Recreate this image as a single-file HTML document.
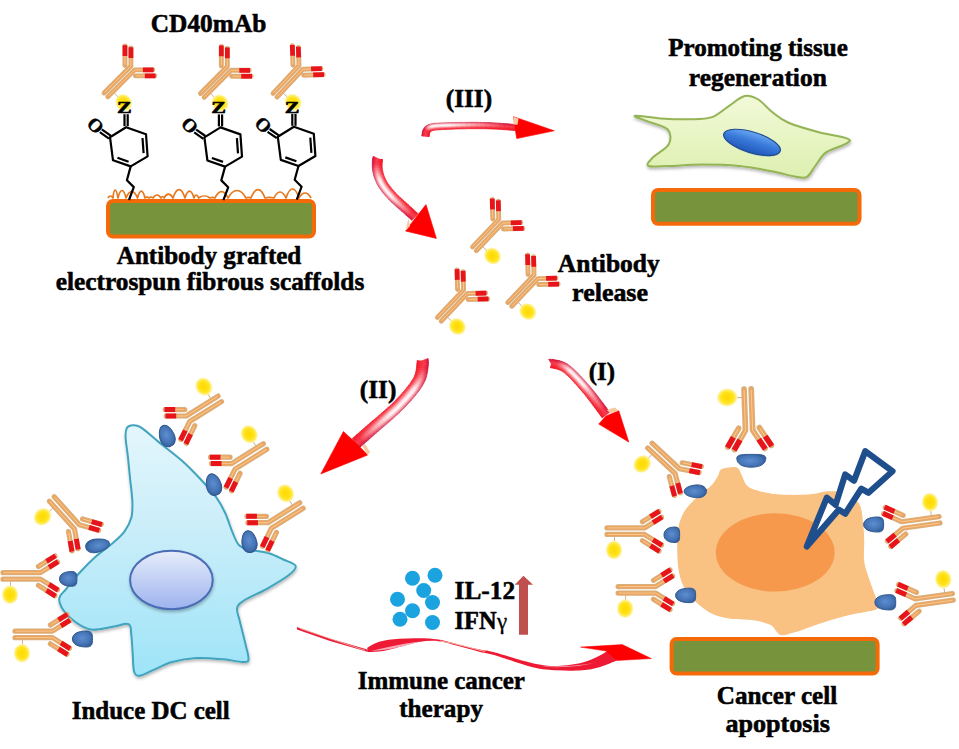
<!DOCTYPE html>
<html><head><meta charset="utf-8"><style>
html,body{margin:0;padding:0;background:#fff;width:959px;height:749px;overflow:hidden}
svg{display:block;font-family:"Liberation Serif",serif}
</style></head><body>
<svg width="959" height="749" viewBox="0 0 959 749" font-family="Liberation Serif, serif" font-weight="bold" stroke-linejoin="round">
<defs>
 <filter id="shd" x="-10%" y="-10%" width="120%" height="125%">
  <feDropShadow dx="0.5" dy="2" stdDeviation="1.8" flood-color="#000" flood-opacity="0.28"/>
 </filter>
 <radialGradient id="ball" cx="50%" cy="50%" r="50%">
  <stop offset="0" stop-color="#FFD800"/>
  <stop offset="0.55" stop-color="#FFE31A"/>
  <stop offset="0.8" stop-color="#FFEA50" stop-opacity="0.8"/>
  <stop offset="1" stop-color="#FFF4B0" stop-opacity="0"/>
 </radialGradient>
 <linearGradient id="dcfill" x1="0" y1="0" x2="0" y2="1">
  <stop offset="0" stop-color="#E4F6FC"/>
  <stop offset="0.5" stop-color="#C4ECF9"/>
  <stop offset="1" stop-color="#9EE4F8"/>
 </linearGradient>
 <linearGradient id="dcnuc" x1="0" y1="0" x2="0" y2="1">
  <stop offset="0" stop-color="#E6ECFA"/>
  <stop offset="1" stop-color="#9DB3EE"/>
 </linearGradient>
 <linearGradient id="tisfill" x1="0" y1="0" x2="0" y2="1">
  <stop offset="0" stop-color="#F2F9D8"/>
  <stop offset="1" stop-color="#DDF0B0"/>
 </linearGradient>
 <linearGradient id="tisnuc" x1="0" y1="0" x2="0" y2="1">
  <stop offset="0" stop-color="#6AA8F2"/>
  <stop offset="0.45" stop-color="#3A7ADA"/>
  <stop offset="1" stop-color="#2058B8"/>
 </linearGradient>
 <radialGradient id="rec" cx="50%" cy="45%" r="55%">
  <stop offset="0" stop-color="#5D8ED0"/>
  <stop offset="0.7" stop-color="#4574B5"/>
  <stop offset="1" stop-color="#365F9E"/>
 </radialGradient>
 <symbol id="ab" overflow="visible">
  <line x1="8" y1="4" x2="8" y2="11" stroke="#C9A070" stroke-width="0.8"/>
  <ellipse cx="8" cy="19" rx="9" ry="10" fill="url(#ball)"/>
  <g fill="none" stroke-linecap="round" stroke-linejoin="round">
   <g stroke="#D8B080" stroke-width="5.2">
    <polyline points="0.5,-2.8 40.5,-2.8 54,-16.3"/>
    <polyline points="0.5,2.8 40.5,2.8 54,16.3"/>
    <line x1="36.5" y1="-7.7" x2="51" y2="-22.2"/>
    <line x1="36.5" y1="7.7" x2="51" y2="22.2"/>
   </g>
   <g stroke="#EEA45C" stroke-width="3.2">
    <polyline points="0.5,-2.8 40.5,-2.8 54,-16.3"/>
    <polyline points="0.5,2.8 40.5,2.8 54,16.3"/>
    <line x1="36.5" y1="-7.7" x2="51" y2="-22.2"/>
    <line x1="36.5" y1="7.7" x2="51" y2="22.2"/>
   </g>
   <g stroke="#F6CC98" stroke-width="0.9">
    <polyline points="1.5,-2.8 40.5,-2.8 52,-14.3"/>
    <polyline points="1.5,2.8 40.5,2.8 52,14.3"/>
    <line x1="37.5" y1="-8.7" x2="49" y2="-20.2"/>
    <line x1="37.5" y1="8.7" x2="49" y2="20.2"/>
   </g>
   <g stroke="#E8141C" stroke-width="5.0" stroke-linecap="butt">
    <line x1="46.6" y1="-8.9" x2="54.6" y2="-16.9"/>
    <line x1="46.6" y1="8.9" x2="54.6" y2="16.9"/>
    <line x1="43.6" y1="-14.8" x2="51.6" y2="-22.8"/>
    <line x1="43.6" y1="14.8" x2="51.6" y2="22.8"/>
   </g>
  </g>
 </symbol>
 <symbol id="ab2" overflow="visible">
  <line x1="8" y1="5" x2="8" y2="10" stroke="#C9A070" stroke-width="0.8"/>
  <ellipse cx="7.5" cy="18.8" rx="8.8" ry="10" fill="url(#ball)"/>
  <g fill="none" stroke-linecap="round" stroke-linejoin="round">
   <g stroke="#D8B080" stroke-width="5.2">
    <polyline points="0.5,-3.25 38,-3.25 55,-13.85"/>
    <polyline points="0.5,3.25 38,3.25 55,13.85"/>
    <line x1="35.9" y1="-9.45" x2="52.45" y2="-19.8"/>
    <line x1="35.9" y1="9.45" x2="52.45" y2="19.8"/>
   </g>
   <g stroke="#EEA45C" stroke-width="3.2">
    <polyline points="0.5,-3.25 38,-3.25 55,-13.85"/>
    <polyline points="0.5,3.25 38,3.25 55,13.85"/>
    <line x1="35.9" y1="-9.45" x2="52.45" y2="-19.8"/>
    <line x1="35.9" y1="9.45" x2="52.45" y2="19.8"/>
   </g>
   <g stroke="#F6CC98" stroke-width="0.9">
    <polyline points="1.5,-3.25 38,-3.25 52,-11.9"/>
    <polyline points="1.5,3.25 38,3.25 52,11.9"/>
    <line x1="37" y1="-10.1" x2="49.5" y2="-17.9"/>
    <line x1="37" y1="10.1" x2="49.5" y2="17.9"/>
   </g>
   <g stroke="#E8141C" stroke-width="5.0" stroke-linecap="butt">
    <line x1="46.5" y1="-8.55" x2="55.6" y2="-14.2"/>
    <line x1="46.5" y1="8.55" x2="55.6" y2="14.2"/>
    <line x1="44" y1="-14.5" x2="53.05" y2="-20.15"/>
    <line x1="44" y1="14.5" x2="53.05" y2="20.15"/>
   </g>
  </g>
 </symbol>
</defs>

<path d="M108,198 C109.5,195.3 111.5,195.3 113.0,198 C113.8,187.4 116.2,187.4 118.0,198 C120.4,188.0 123.6,188.0 126.0,198 C129.4,189.4 134.1,189.4 137.5,198 C139.8,188.7 142.8,188.7 145.0,198 C146.2,196.7 147.8,196.7 149.0,198 C150.2,196.7 151.8,196.7 153.0,198 C155.4,194.0 158.6,194.0 161.0,198 C161.9,196.0 163.1,196.0 164.0,198 C166.7,192.7 170.3,192.7 173.0,198 C176.6,186.7 181.4,186.7 185.0,198 C187.7,188.7 191.3,188.7 194.0,198 C195.4,194.0 197.2,194.0 198.6,198 C202.0,195.3 206.6,195.3 210.0,198 C211.5,197.3 213.5,197.3 215.0,198 C218.9,189.4 224.1,189.4 228.0,198 C233.4,188.0 240.6,188.0 246.0,198 C247.5,197.3 249.5,197.3 251.0,198 C255.2,186.7 260.8,186.7 265.0,198 C267.7,197.3 271.3,197.3 274.0,198 C277.6,190.0 282.4,190.0 286.0,198 C289.9,186.0 295.1,186.0 299.0,198 C302.6,191.3 307.4,191.3 311.0,198" fill="none" stroke="#E8781C" stroke-width="1.7" stroke-linejoin="round"/>
<rect x="108" y="201" width="206" height="35.5" rx="5" fill="#77933C" stroke="#F46A08" stroke-width="4"/>
<use href="#ab" transform="translate(105.6,95.2) rotate(-45) scale(0.95)"/>
<use href="#ab" transform="translate(202,95.6) rotate(-45) scale(0.95)"/>
<use href="#ab" transform="translate(274.7,95.6) rotate(-47) scale(0.95)"/>
<g stroke="#000" stroke-width="2.2" fill="none" stroke-linejoin="round"><polygon points="126.1,127.2 146.0,134.2 147.6,156.4 130.7,166.4 113.0,160.3 110.0,137.2"/><line x1="142.5" y1="138.0" x2="143.6" y2="153.2"/><line x1="128.6" y1="161.7" x2="117.5" y2="157.8"/><line x1="124.5" y1="126.2" x2="124.5" y2="114.2"/><line x1="127.69999999999999" y1="126.2" x2="127.69999999999999" y2="114.2"/><line x1="111.0" y1="135.8" x2="101.8" y2="129.4"/><line x1="109.0" y1="138.6" x2="99.8" y2="132.2"/><polyline points="130.7,166.4 126.89999999999999,180.2 133.79999999999998,187.1 129.0,200.0"/></g>
<text x="0" y="0" font-size="19" text-anchor="middle" stroke="#000" stroke-width="0.5" transform="translate(95.5,125.3) rotate(45) translate(0,6.5)">O</text>
<text x="0" y="0" font-size="17" text-anchor="middle" stroke="#000" stroke-width="0.6" transform="translate(124.3,113.0) scale(1.3,1)">Z</text>
<g stroke="#000" stroke-width="2.2" fill="none" stroke-linejoin="round"><polygon points="220.5,127.4 240.4,134.4 242.0,156.6 225.1,166.6 207.4,160.5 204.4,137.4"/><line x1="236.9" y1="138.2" x2="238.0" y2="153.4"/><line x1="223.0" y1="161.9" x2="211.9" y2="158.0"/><line x1="218.9" y1="126.4" x2="218.9" y2="114.4"/><line x1="222.1" y1="126.4" x2="222.1" y2="114.4"/><line x1="205.4" y1="136.0" x2="196.2" y2="129.6"/><line x1="203.4" y1="138.8" x2="194.2" y2="132.4"/><polyline points="225.1,166.60000000000002 221.3,180.4 228.2,187.3 223.4,200.2"/></g>
<text x="0" y="0" font-size="19" text-anchor="middle" stroke="#000" stroke-width="0.5" transform="translate(189.9,125.5) rotate(45) translate(0,6.5)">O</text>
<text x="0" y="0" font-size="17" text-anchor="middle" stroke="#000" stroke-width="0.6" transform="translate(218.7,113.2) scale(1.3,1)">Z</text>
<g stroke="#000" stroke-width="2.2" fill="none" stroke-linejoin="round"><polygon points="293.9,126.8 313.8,133.8 315.4,156.0 298.5,166.0 280.8,159.9 277.8,136.8"/><line x1="310.3" y1="137.6" x2="311.4" y2="152.8"/><line x1="296.4" y1="161.3" x2="285.3" y2="157.4"/><line x1="292.29999999999995" y1="125.8" x2="292.29999999999995" y2="113.8"/><line x1="295.5" y1="125.8" x2="295.5" y2="113.8"/><line x1="278.79999999999995" y1="135.4" x2="269.59999999999997" y2="129.0"/><line x1="276.79999999999995" y1="138.2" x2="267.59999999999997" y2="131.8"/><polyline points="298.5,166.0 294.7,179.8 301.59999999999997,186.7 296.79999999999995,199.6"/></g>
<text x="0" y="0" font-size="19" text-anchor="middle" stroke="#000" stroke-width="0.5" transform="translate(263.29999999999995,124.89999999999999) rotate(45) translate(0,6.5)">O</text>
<text x="0" y="0" font-size="17" text-anchor="middle" stroke="#000" stroke-width="0.6" transform="translate(292.09999999999997,112.6) scale(1.3,1)">Z</text>
<text x="150.8" y="32" font-size="25" text-anchor="start" stroke="#000" stroke-width="0.55" textLength="115.5" lengthAdjust="spacingAndGlyphs">CD40mAb</text>
<text x="116.8" y="263.5" font-size="25" text-anchor="start" stroke="#000" stroke-width="0.55" textLength="184.5" lengthAdjust="spacingAndGlyphs">Antibody grafted</text>
<text x="55.8" y="290" font-size="25" text-anchor="start" stroke="#000" stroke-width="0.55" textLength="308.5" lengthAdjust="spacingAndGlyphs">electrospun fibrous scaffolds</text>
<text x="668.3" y="55.5" font-size="25" text-anchor="start" stroke="#000" stroke-width="0.55" textLength="179.5" lengthAdjust="spacingAndGlyphs">Promoting tissue</text>
<text x="688.8" y="85.5" font-size="25" text-anchor="start" stroke="#000" stroke-width="0.55" textLength="138.0" lengthAdjust="spacingAndGlyphs">regeneration</text>
<path d="M634.9,115.8 C637.2,115.3 651.4,117.9 660.7,118.5 C670.0,119.1 681.9,119.5 690.5,119.3 C699.1,119.1 705.9,119.3 712.2,117.1 C718.5,114.9 723.1,109.8 728.5,106.3 C733.9,102.8 739.7,97.1 744.7,96.0 C749.7,94.9 753.8,96.9 758.3,99.5 C762.8,102.1 766.8,107.9 771.8,111.7 C776.8,115.5 780.3,119.1 788.0,122.5 C795.7,125.9 808.0,129.3 818.0,132.0 C828.0,134.7 843.3,136.8 847.8,138.8 C852.3,140.8 848.6,141.9 845.0,144.2 C841.4,146.5 831.0,148.8 826.0,152.4 C821.0,156.0 818.4,161.9 815.2,166.0 C812.0,170.1 810.2,175.0 807.0,176.8 C803.8,178.6 802.1,177.7 796.2,176.8 C790.3,175.9 781.3,173.1 771.8,171.3 C762.3,169.5 751.0,167.1 739.3,166.0 C727.5,164.9 713.0,164.6 701.3,164.6 C689.5,164.6 677.6,165.8 668.8,166.0 C660.0,166.2 651.2,167.4 648.5,166.0 C645.8,164.6 649.1,161.4 652.5,157.8 C655.9,154.2 666.3,148.9 668.8,144.2 C671.3,139.4 671.1,133.1 667.5,129.3 C663.9,125.5 652.5,123.5 647.1,121.2 C641.7,119.0 632.6,116.2 634.9,115.8 Z" fill="url(#tisfill)" stroke="#94B455" stroke-width="2" filter="url(#shd)"/>
<ellipse cx="752.5" cy="143.5" rx="29.5" ry="10.6" transform="rotate(17 752.5 143.5)" fill="#7FA8D8" opacity="0.35"/><ellipse cx="752" cy="142.4" rx="29.5" ry="10.4" transform="rotate(17 752 142.4)" fill="url(#tisnuc)" stroke="#1F4A90" stroke-width="1.2"/>
<rect x="653" y="190" width="206.5" height="33.80000000000001" rx="5" fill="#77933C" stroke="#F46A08" stroke-width="4"/>
<defs><linearGradient id="ag1" gradientUnits="userSpaceOnUse" x1="421.8" y1="135.5" x2="429.2" y2="136.3"><stop offset="0" stop-color="#CC1038"/><stop offset="0.15" stop-color="#E71F3E"/><stop offset="0.3" stop-color="#F22D45"/><stop offset="0.42" stop-color="#F4374B"/><stop offset="0.55" stop-color="#F43344"/><stop offset="0.7" stop-color="#F42838"/><stop offset="0.85" stop-color="#F41D2D"/><stop offset="1" stop-color="#F41222"/></linearGradient><linearGradient id="ag2" gradientUnits="userSpaceOnUse" x1="421.9" y1="134.8" x2="429.3" y2="135.7"><stop offset="0" stop-color="#CC1038"/><stop offset="0.15" stop-color="#E71F3E"/><stop offset="0.3" stop-color="#F22D45"/><stop offset="0.42" stop-color="#F4374B"/><stop offset="0.55" stop-color="#F43344"/><stop offset="0.7" stop-color="#F42838"/><stop offset="0.85" stop-color="#F41D2D"/><stop offset="1" stop-color="#F41222"/></linearGradient><linearGradient id="ag3" gradientUnits="userSpaceOnUse" x1="422.0" y1="134.2" x2="429.4" y2="135.0"><stop offset="0" stop-color="#CC1038"/><stop offset="0.15" stop-color="#E71F3E"/><stop offset="0.3" stop-color="#F22D45"/><stop offset="0.42" stop-color="#F4374B"/><stop offset="0.55" stop-color="#F43344"/><stop offset="0.7" stop-color="#F42838"/><stop offset="0.85" stop-color="#F41D2D"/><stop offset="1" stop-color="#F41222"/></linearGradient><linearGradient id="ag4" gradientUnits="userSpaceOnUse" x1="422.1" y1="133.3" x2="429.4" y2="134.4"><stop offset="0" stop-color="#CC1038"/><stop offset="0.15" stop-color="#E71F3E"/><stop offset="0.3" stop-color="#F22D45"/><stop offset="0.42" stop-color="#F4374B"/><stop offset="0.55" stop-color="#F43344"/><stop offset="0.7" stop-color="#F42838"/><stop offset="0.85" stop-color="#F41D2D"/><stop offset="1" stop-color="#F41222"/></linearGradient><linearGradient id="ag5" gradientUnits="userSpaceOnUse" x1="422.3" y1="132.4" x2="429.5" y2="133.7"><stop offset="0" stop-color="#CC1038"/><stop offset="0.15" stop-color="#E71F3E"/><stop offset="0.3" stop-color="#F22D45"/><stop offset="0.42" stop-color="#F4374B"/><stop offset="0.55" stop-color="#F43344"/><stop offset="0.7" stop-color="#F42838"/><stop offset="0.85" stop-color="#F41D2D"/><stop offset="1" stop-color="#F41222"/></linearGradient><linearGradient id="ag6" gradientUnits="userSpaceOnUse" x1="422.5" y1="131.3" x2="429.6" y2="133.2"><stop offset="0" stop-color="#CC1038"/><stop offset="0.15" stop-color="#E71F3E"/><stop offset="0.3" stop-color="#F22D45"/><stop offset="0.42" stop-color="#F4374B"/><stop offset="0.55" stop-color="#F43344"/><stop offset="0.7" stop-color="#F42838"/><stop offset="0.85" stop-color="#F41D2D"/><stop offset="1" stop-color="#F41222"/></linearGradient><linearGradient id="ag7" gradientUnits="userSpaceOnUse" x1="422.9" y1="130.2" x2="429.7" y2="132.8"><stop offset="0" stop-color="#CC1038"/><stop offset="0.15" stop-color="#E71F3E"/><stop offset="0.3" stop-color="#F22D45"/><stop offset="0.42" stop-color="#F4374B"/><stop offset="0.55" stop-color="#F43344"/><stop offset="0.7" stop-color="#F42838"/><stop offset="0.85" stop-color="#F41D2D"/><stop offset="1" stop-color="#F41222"/></linearGradient><linearGradient id="ag8" gradientUnits="userSpaceOnUse" x1="423.5" y1="129.1" x2="429.8" y2="132.6"><stop offset="0" stop-color="#CC1038"/><stop offset="0.15" stop-color="#E71F3E"/><stop offset="0.3" stop-color="#F22D45"/><stop offset="0.42" stop-color="#F4374B"/><stop offset="0.55" stop-color="#F43344"/><stop offset="0.7" stop-color="#F42838"/><stop offset="0.85" stop-color="#F41D2D"/><stop offset="1" stop-color="#F41222"/></linearGradient><linearGradient id="ag9" gradientUnits="userSpaceOnUse" x1="424.1" y1="128.2" x2="429.9" y2="132.3"><stop offset="0" stop-color="#CD153C"/><stop offset="0.15" stop-color="#E82846"/><stop offset="0.3" stop-color="#F2394F"/><stop offset="0.42" stop-color="#F44355"/><stop offset="0.55" stop-color="#F53C4D"/><stop offset="0.7" stop-color="#F42E3D"/><stop offset="0.85" stop-color="#F41F2F"/><stop offset="1" stop-color="#F41323"/></linearGradient><linearGradient id="ag10" gradientUnits="userSpaceOnUse" x1="424.6" y1="127.5" x2="430.2" y2="131.9"><stop offset="0" stop-color="#CF1E44"/><stop offset="0.15" stop-color="#EA3A55"/><stop offset="0.3" stop-color="#F45165"/><stop offset="0.42" stop-color="#F65B6B"/><stop offset="0.55" stop-color="#F6505F"/><stop offset="0.7" stop-color="#F53948"/><stop offset="0.85" stop-color="#F42434"/><stop offset="1" stop-color="#F41424"/></linearGradient><linearGradient id="ag11" gradientUnits="userSpaceOnUse" x1="425.2" y1="126.8" x2="430.4" y2="131.6"><stop offset="0" stop-color="#D1284C"/><stop offset="0.15" stop-color="#EC4C64"/><stop offset="0.3" stop-color="#F5697A"/><stop offset="0.42" stop-color="#F77380"/><stop offset="0.55" stop-color="#F76471"/><stop offset="0.7" stop-color="#F54553"/><stop offset="0.85" stop-color="#F52938"/><stop offset="1" stop-color="#F41625"/></linearGradient><linearGradient id="ag12" gradientUnits="userSpaceOnUse" x1="425.9" y1="126.1" x2="430.5" y2="131.5"><stop offset="0" stop-color="#D33153"/><stop offset="0.15" stop-color="#EE5E74"/><stop offset="0.3" stop-color="#F7818F"/><stop offset="0.42" stop-color="#F88A95"/><stop offset="0.55" stop-color="#F87783"/><stop offset="0.7" stop-color="#F6515E"/><stop offset="0.85" stop-color="#F52E3D"/><stop offset="1" stop-color="#F41727"/></linearGradient><linearGradient id="ag13" gradientUnits="userSpaceOnUse" x1="426.9" y1="125.4" x2="430.7" y2="131.3"><stop offset="0" stop-color="#D53A5B"/><stop offset="0.15" stop-color="#F06F83"/><stop offset="0.3" stop-color="#F899A5"/><stop offset="0.42" stop-color="#FAA2AB"/><stop offset="0.55" stop-color="#F98B95"/><stop offset="0.7" stop-color="#F75C69"/><stop offset="0.85" stop-color="#F53341"/><stop offset="1" stop-color="#F41928"/></linearGradient><linearGradient id="ag14" gradientUnits="userSpaceOnUse" x1="428.0" y1="124.9" x2="431.0" y2="131.2"><stop offset="0" stop-color="#D74463"/><stop offset="0.15" stop-color="#F28193"/><stop offset="0.3" stop-color="#FAB1BA"/><stop offset="0.42" stop-color="#FBBAC0"/><stop offset="0.55" stop-color="#FA9FA7"/><stop offset="0.7" stop-color="#F76874"/><stop offset="0.85" stop-color="#F53846"/><stop offset="1" stop-color="#F41A2A"/></linearGradient><linearGradient id="ag15" gradientUnits="userSpaceOnUse" x1="429.2" y1="124.4" x2="431.5" y2="130.9"><stop offset="0" stop-color="#D94D6B"/><stop offset="0.15" stop-color="#F393A2"/><stop offset="0.3" stop-color="#FCC9CF"/><stop offset="0.42" stop-color="#FCD1D6"/><stop offset="0.55" stop-color="#FBB2B9"/><stop offset="0.7" stop-color="#F8747E"/><stop offset="0.85" stop-color="#F63D4B"/><stop offset="1" stop-color="#F41C2B"/></linearGradient><linearGradient id="ag16" gradientUnits="userSpaceOnUse" x1="430.6" y1="124.0" x2="432.3" y2="130.7"><stop offset="0" stop-color="#DB5773"/><stop offset="0.15" stop-color="#F5A5B1"/><stop offset="0.3" stop-color="#FDE1E4"/><stop offset="0.42" stop-color="#FEE9EB"/><stop offset="0.55" stop-color="#FCC6CB"/><stop offset="0.7" stop-color="#F88089"/><stop offset="0.85" stop-color="#F6424F"/><stop offset="1" stop-color="#F51D2C"/></linearGradient><linearGradient id="ag17" gradientUnits="userSpaceOnUse" x1="432.0" y1="123.7" x2="433.3" y2="130.4"><stop offset="0" stop-color="#DC5B77"/><stop offset="0.15" stop-color="#F6AEB9"/><stop offset="0.3" stop-color="#FEEDEF"/><stop offset="0.42" stop-color="#FEF5F6"/><stop offset="0.55" stop-color="#FCD0D4"/><stop offset="0.7" stop-color="#F9858F"/><stop offset="0.85" stop-color="#F64451"/><stop offset="1" stop-color="#F51E2D"/></linearGradient><linearGradient id="ag18" gradientUnits="userSpaceOnUse" x1="433.5" y1="123.5" x2="434.6" y2="130.2"><stop offset="0" stop-color="#DC5B77"/><stop offset="0.15" stop-color="#F6AEB9"/><stop offset="0.3" stop-color="#FEEDEF"/><stop offset="0.42" stop-color="#FEF5F6"/><stop offset="0.55" stop-color="#FCD0D4"/><stop offset="0.7" stop-color="#F9858F"/><stop offset="0.85" stop-color="#F64451"/><stop offset="1" stop-color="#F51E2D"/></linearGradient><linearGradient id="ag19" gradientUnits="userSpaceOnUse" x1="435.1" y1="123.3" x2="435.9" y2="130.0"><stop offset="0" stop-color="#DC5B77"/><stop offset="0.15" stop-color="#F6AEB9"/><stop offset="0.3" stop-color="#FEEDEF"/><stop offset="0.42" stop-color="#FEF5F6"/><stop offset="0.55" stop-color="#FCD0D4"/><stop offset="0.7" stop-color="#F9858F"/><stop offset="0.85" stop-color="#F64451"/><stop offset="1" stop-color="#F51E2D"/></linearGradient><linearGradient id="ag20" gradientUnits="userSpaceOnUse" x1="436.9" y1="123.1" x2="437.4" y2="129.9"><stop offset="0" stop-color="#DC5B77"/><stop offset="0.15" stop-color="#F6AEB9"/><stop offset="0.3" stop-color="#FEEDEF"/><stop offset="0.42" stop-color="#FEF5F6"/><stop offset="0.55" stop-color="#FCD0D4"/><stop offset="0.7" stop-color="#F9858F"/><stop offset="0.85" stop-color="#F64451"/><stop offset="1" stop-color="#F51E2D"/></linearGradient><linearGradient id="ag21" gradientUnits="userSpaceOnUse" x1="438.8" y1="123.0" x2="439.2" y2="129.7"><stop offset="0" stop-color="#DC5B77"/><stop offset="0.15" stop-color="#F6AEB9"/><stop offset="0.3" stop-color="#FEEDEF"/><stop offset="0.42" stop-color="#FEF5F6"/><stop offset="0.55" stop-color="#FCD0D4"/><stop offset="0.7" stop-color="#F9858F"/><stop offset="0.85" stop-color="#F64451"/><stop offset="1" stop-color="#F51E2D"/></linearGradient><linearGradient id="ag22" gradientUnits="userSpaceOnUse" x1="441.0" y1="122.9" x2="441.3" y2="129.6"><stop offset="0" stop-color="#DC5B77"/><stop offset="0.15" stop-color="#F6AEB9"/><stop offset="0.3" stop-color="#FEEDEF"/><stop offset="0.42" stop-color="#FEF5F6"/><stop offset="0.55" stop-color="#FCD0D4"/><stop offset="0.7" stop-color="#F9858F"/><stop offset="0.85" stop-color="#F64451"/><stop offset="1" stop-color="#F51E2D"/></linearGradient><linearGradient id="ag23" gradientUnits="userSpaceOnUse" x1="443.5" y1="122.8" x2="443.7" y2="129.5"><stop offset="0" stop-color="#DC5B77"/><stop offset="0.15" stop-color="#F6AEB9"/><stop offset="0.3" stop-color="#FEEDEF"/><stop offset="0.42" stop-color="#FEF5F6"/><stop offset="0.55" stop-color="#FCD0D4"/><stop offset="0.7" stop-color="#F9858F"/><stop offset="0.85" stop-color="#F64451"/><stop offset="1" stop-color="#F51E2D"/></linearGradient><linearGradient id="ag24" gradientUnits="userSpaceOnUse" x1="446.4" y1="122.7" x2="446.6" y2="129.4"><stop offset="0" stop-color="#DC5B77"/><stop offset="0.15" stop-color="#F6AEB9"/><stop offset="0.3" stop-color="#FEEDEF"/><stop offset="0.42" stop-color="#FEF5F6"/><stop offset="0.55" stop-color="#FCD0D4"/><stop offset="0.7" stop-color="#F9858F"/><stop offset="0.85" stop-color="#F64451"/><stop offset="1" stop-color="#F51E2D"/></linearGradient><linearGradient id="ag25" gradientUnits="userSpaceOnUse" x1="449.7" y1="122.7" x2="449.9" y2="129.2"><stop offset="0" stop-color="#DC5B77"/><stop offset="0.15" stop-color="#F6AEB9"/><stop offset="0.3" stop-color="#FEEDEF"/><stop offset="0.42" stop-color="#FEF5F6"/><stop offset="0.55" stop-color="#FCD0D4"/><stop offset="0.7" stop-color="#F9858F"/><stop offset="0.85" stop-color="#F64451"/><stop offset="1" stop-color="#F51E2D"/></linearGradient><linearGradient id="ag26" gradientUnits="userSpaceOnUse" x1="453.7" y1="122.6" x2="453.9" y2="129.1"><stop offset="0" stop-color="#DB5773"/><stop offset="0.15" stop-color="#F5A6B2"/><stop offset="0.3" stop-color="#FDE2E5"/><stop offset="0.42" stop-color="#FEEAEC"/><stop offset="0.55" stop-color="#FCC6CB"/><stop offset="0.7" stop-color="#F9808A"/><stop offset="0.85" stop-color="#F6424F"/><stop offset="1" stop-color="#F51D2C"/></linearGradient><linearGradient id="ag27" gradientUnits="userSpaceOnUse" x1="458.2" y1="122.5" x2="458.3" y2="129.0"><stop offset="0" stop-color="#DA516E"/><stop offset="0.15" stop-color="#F49AA8"/><stop offset="0.3" stop-color="#FCD2D7"/><stop offset="0.42" stop-color="#FDDADD"/><stop offset="0.55" stop-color="#FBB9BF"/><stop offset="0.7" stop-color="#F87882"/><stop offset="0.85" stop-color="#F63F4C"/><stop offset="1" stop-color="#F41C2B"/></linearGradient><linearGradient id="ag28" gradientUnits="userSpaceOnUse" x1="463.0" y1="122.4" x2="463.1" y2="128.9"><stop offset="0" stop-color="#D84A69"/><stop offset="0.15" stop-color="#F38E9D"/><stop offset="0.3" stop-color="#FBC2C9"/><stop offset="0.42" stop-color="#FCCACF"/><stop offset="0.55" stop-color="#FBACB3"/><stop offset="0.7" stop-color="#F8707B"/><stop offset="0.85" stop-color="#F53B49"/><stop offset="1" stop-color="#F41B2A"/></linearGradient><linearGradient id="ag29" gradientUnits="userSpaceOnUse" x1="468.0" y1="122.4" x2="468.1" y2="128.8"><stop offset="0" stop-color="#D74463"/><stop offset="0.15" stop-color="#F28293"/><stop offset="0.3" stop-color="#FAB2BA"/><stop offset="0.42" stop-color="#FBBAC1"/><stop offset="0.55" stop-color="#FA9FA7"/><stop offset="0.7" stop-color="#F76974"/><stop offset="0.85" stop-color="#F53846"/><stop offset="1" stop-color="#F41A2A"/></linearGradient><linearGradient id="ag30" gradientUnits="userSpaceOnUse" x1="473.1" y1="122.3" x2="473.1" y2="128.7"><stop offset="0" stop-color="#D63E5E"/><stop offset="0.15" stop-color="#F07689"/><stop offset="0.3" stop-color="#F9A2AC"/><stop offset="0.42" stop-color="#FAABB3"/><stop offset="0.55" stop-color="#F9929B"/><stop offset="0.7" stop-color="#F7616D"/><stop offset="0.85" stop-color="#F53543"/><stop offset="1" stop-color="#F41929"/></linearGradient><linearGradient id="ag31" gradientUnits="userSpaceOnUse" x1="478.1" y1="122.3" x2="478.0" y2="128.7"><stop offset="0" stop-color="#D43859"/><stop offset="0.15" stop-color="#EF6A7F"/><stop offset="0.3" stop-color="#F8929E"/><stop offset="0.42" stop-color="#F99BA4"/><stop offset="0.55" stop-color="#F8858F"/><stop offset="0.7" stop-color="#F75966"/><stop offset="0.85" stop-color="#F53240"/><stop offset="1" stop-color="#F41828"/></linearGradient><linearGradient id="ag32" gradientUnits="userSpaceOnUse" x1="482.8" y1="122.4" x2="482.7" y2="128.7"><stop offset="0" stop-color="#D33154"/><stop offset="0.15" stop-color="#EE5E74"/><stop offset="0.3" stop-color="#F78290"/><stop offset="0.42" stop-color="#F88B96"/><stop offset="0.55" stop-color="#F87883"/><stop offset="0.7" stop-color="#F6515E"/><stop offset="0.85" stop-color="#F52E3D"/><stop offset="1" stop-color="#F41727"/></linearGradient><linearGradient id="ag33" gradientUnits="userSpaceOnUse" x1="487.3" y1="122.5" x2="487.1" y2="128.8"><stop offset="0" stop-color="#D22B4E"/><stop offset="0.15" stop-color="#EC526A"/><stop offset="0.3" stop-color="#F67282"/><stop offset="0.42" stop-color="#F77B88"/><stop offset="0.55" stop-color="#F76B77"/><stop offset="0.7" stop-color="#F64957"/><stop offset="0.85" stop-color="#F52B3A"/><stop offset="1" stop-color="#F41626"/></linearGradient><linearGradient id="ag34" gradientUnits="userSpaceOnUse" x1="491.9" y1="122.7" x2="491.6" y2="129.0"><stop offset="0" stop-color="#D02549"/><stop offset="0.15" stop-color="#EB4660"/><stop offset="0.3" stop-color="#F56274"/><stop offset="0.42" stop-color="#F76B7A"/><stop offset="0.55" stop-color="#F65E6C"/><stop offset="0.7" stop-color="#F54150"/><stop offset="0.85" stop-color="#F52837"/><stop offset="1" stop-color="#F41525"/></linearGradient><linearGradient id="ag35" gradientUnits="userSpaceOnUse" x1="496.6" y1="123.0" x2="496.3" y2="129.2"><stop offset="0" stop-color="#CF1E44"/><stop offset="0.15" stop-color="#EA3A56"/><stop offset="0.3" stop-color="#F45265"/><stop offset="0.42" stop-color="#F65C6B"/><stop offset="0.55" stop-color="#F65160"/><stop offset="0.7" stop-color="#F53A49"/><stop offset="0.85" stop-color="#F42434"/><stop offset="1" stop-color="#F41424"/></linearGradient><linearGradient id="ag36" gradientUnits="userSpaceOnUse" x1="501.3" y1="123.3" x2="500.8" y2="129.5"><stop offset="0" stop-color="#CE183F"/><stop offset="0.15" stop-color="#E92E4B"/><stop offset="0.3" stop-color="#F34257"/><stop offset="0.42" stop-color="#F54C5D"/><stop offset="0.55" stop-color="#F54454"/><stop offset="0.7" stop-color="#F53241"/><stop offset="0.85" stop-color="#F42131"/><stop offset="1" stop-color="#F41323"/></linearGradient><linearGradient id="ag37" gradientUnits="userSpaceOnUse" x1="505.7" y1="123.7" x2="505.2" y2="129.8"><stop offset="0" stop-color="#CC123A"/><stop offset="0.15" stop-color="#E72341"/><stop offset="0.3" stop-color="#F23249"/><stop offset="0.42" stop-color="#F43C4F"/><stop offset="0.55" stop-color="#F43748"/><stop offset="0.7" stop-color="#F42A3A"/><stop offset="0.85" stop-color="#F41E2E"/><stop offset="1" stop-color="#F41222"/></linearGradient><linearGradient id="ag38" gradientUnits="userSpaceOnUse" x1="509.7" y1="124.0" x2="509.2" y2="130.1"><stop offset="0" stop-color="#CC1038"/><stop offset="0.15" stop-color="#E71F3E"/><stop offset="0.3" stop-color="#F22D45"/><stop offset="0.42" stop-color="#F4374B"/><stop offset="0.55" stop-color="#F43344"/><stop offset="0.7" stop-color="#F42838"/><stop offset="0.85" stop-color="#F41D2D"/><stop offset="1" stop-color="#F41222"/></linearGradient><linearGradient id="ag39" gradientUnits="userSpaceOnUse" x1="513.2" y1="124.3" x2="512.7" y2="130.3"><stop offset="0" stop-color="#CC1038"/><stop offset="0.15" stop-color="#E71F3E"/><stop offset="0.3" stop-color="#F22D45"/><stop offset="0.42" stop-color="#F4374B"/><stop offset="0.55" stop-color="#F43344"/><stop offset="0.7" stop-color="#F42838"/><stop offset="0.85" stop-color="#F41D2D"/><stop offset="1" stop-color="#F41222"/></linearGradient><linearGradient id="ag40" gradientUnits="userSpaceOnUse" x1="516.0" y1="124.5" x2="515.6" y2="130.5"><stop offset="0" stop-color="#CC1038"/><stop offset="0.15" stop-color="#E71F3E"/><stop offset="0.3" stop-color="#F22D45"/><stop offset="0.42" stop-color="#F4374B"/><stop offset="0.55" stop-color="#F43344"/><stop offset="0.7" stop-color="#F42838"/><stop offset="0.85" stop-color="#F41D2D"/><stop offset="1" stop-color="#F41222"/></linearGradient></defs>
<g stroke-width="0.7" stroke-linejoin="round"><polygon points="421.7,136.0 421.9,135.1 429.3,136.1 429.2,136.5" fill="url(#ag1)" stroke="url(#ag1)"/><polygon points="421.9,135.1 422.0,134.5 429.3,135.4 429.3,136.1" fill="url(#ag2)" stroke="url(#ag2)"/><polygon points="422.0,134.5 422.1,133.8 429.4,134.7 429.3,135.4" fill="url(#ag3)" stroke="url(#ag3)"/><polygon points="422.1,133.8 422.2,132.9 429.5,134.0 429.4,134.7" fill="url(#ag4)" stroke="url(#ag4)"/><polygon points="422.2,132.9 422.4,131.9 429.5,133.4 429.5,134.0" fill="url(#ag5)" stroke="url(#ag5)"/><polygon points="422.4,131.9 422.7,130.8 429.6,132.9 429.5,133.4" fill="url(#ag6)" stroke="url(#ag6)"/><polygon points="422.7,130.8 423.2,129.6 429.7,132.7 429.6,132.9" fill="url(#ag7)" stroke="url(#ag7)"/><polygon points="423.2,129.6 423.8,128.5 429.8,132.5 429.7,132.7" fill="url(#ag8)" stroke="url(#ag8)"/><polygon points="423.8,128.5 424.3,127.8 430.1,132.1 429.8,132.5" fill="url(#ag9)" stroke="url(#ag9)"/><polygon points="424.3,127.8 424.8,127.2 430.3,131.8 430.1,132.1" fill="url(#ag10)" stroke="url(#ag10)"/><polygon points="424.8,127.2 425.5,126.5 430.5,131.5 430.3,131.8" fill="url(#ag11)" stroke="url(#ag11)"/><polygon points="425.5,126.5 426.4,125.8 430.6,131.4 430.5,131.5" fill="url(#ag12)" stroke="url(#ag12)"/><polygon points="426.4,125.8 427.4,125.1 430.8,131.3 430.6,131.4" fill="url(#ag13)" stroke="url(#ag13)"/><polygon points="427.4,125.1 428.6,124.6 431.1,131.1 430.8,131.3" fill="url(#ag14)" stroke="url(#ag14)"/><polygon points="428.6,124.6 429.8,124.2 431.8,130.8 431.1,131.1" fill="url(#ag15)" stroke="url(#ag15)"/><polygon points="429.8,124.2 431.3,123.8 432.7,130.6 431.8,130.8" fill="url(#ag16)" stroke="url(#ag16)"/><polygon points="431.3,123.8 432.8,123.6 433.9,130.3 432.7,130.6" fill="url(#ag17)" stroke="url(#ag17)"/><polygon points="432.8,123.6 434.3,123.3 435.2,130.1 433.9,130.3" fill="url(#ag18)" stroke="url(#ag18)"/><polygon points="434.3,123.3 436.0,123.2 436.6,129.9 435.2,130.1" fill="url(#ag19)" stroke="url(#ag19)"/><polygon points="436.0,123.2 437.8,123.1 438.3,129.8 436.6,129.9" fill="url(#ag20)" stroke="url(#ag20)"/><polygon points="437.8,123.1 439.8,122.9 440.2,129.7 438.3,129.8" fill="url(#ag21)" stroke="url(#ag21)"/><polygon points="439.8,122.9 442.1,122.9 442.4,129.5 440.2,129.7" fill="url(#ag22)" stroke="url(#ag22)"/><polygon points="442.1,122.9 444.8,122.8 445.0,129.4 442.4,129.5" fill="url(#ag23)" stroke="url(#ag23)"/><polygon points="444.8,122.8 447.9,122.7 448.1,129.3 445.0,129.4" fill="url(#ag24)" stroke="url(#ag24)"/><polygon points="447.9,122.7 451.6,122.6 451.7,129.2 448.1,129.3" fill="url(#ag25)" stroke="url(#ag25)"/><polygon points="451.6,122.6 455.8,122.5 456.0,129.0 451.7,129.2" fill="url(#ag26)" stroke="url(#ag26)"/><polygon points="455.8,122.5 460.5,122.4 460.6,128.9 456.0,129.0" fill="url(#ag27)" stroke="url(#ag27)"/><polygon points="460.5,122.4 465.5,122.4 465.5,128.8 460.6,128.9" fill="url(#ag28)" stroke="url(#ag28)"/><polygon points="465.5,122.4 470.5,122.3 470.6,128.7 465.5,128.8" fill="url(#ag29)" stroke="url(#ag29)"/><polygon points="470.5,122.3 475.6,122.3 475.6,128.7 470.6,128.7" fill="url(#ag30)" stroke="url(#ag30)"/><polygon points="475.6,122.3 480.5,122.4 480.4,128.7 475.6,128.7" fill="url(#ag31)" stroke="url(#ag31)"/><polygon points="480.5,122.4 485.1,122.5 484.9,128.7 480.4,128.7" fill="url(#ag32)" stroke="url(#ag32)"/><polygon points="485.1,122.5 489.6,122.6 489.3,128.9 484.9,128.7" fill="url(#ag33)" stroke="url(#ag33)"/><polygon points="489.6,122.6 494.3,122.9 493.9,129.1 489.3,128.9" fill="url(#ag34)" stroke="url(#ag34)"/><polygon points="494.3,122.9 499.0,123.2 498.6,129.3 493.9,129.1" fill="url(#ag35)" stroke="url(#ag35)"/><polygon points="499.0,123.2 503.5,123.5 503.1,129.6 498.6,129.3" fill="url(#ag36)" stroke="url(#ag36)"/><polygon points="503.5,123.5 507.8,123.8 507.3,129.9 503.1,129.6" fill="url(#ag37)" stroke="url(#ag37)"/><polygon points="507.8,123.8 511.6,124.2 511.1,130.2 507.3,129.9" fill="url(#ag38)" stroke="url(#ag38)"/><polygon points="511.6,124.2 514.8,124.4 514.3,130.4 511.1,130.2" fill="url(#ag39)" stroke="url(#ag39)"/><polygon points="514.8,124.4 517.2,124.6 516.8,130.6 514.3,130.4" fill="url(#ag40)" stroke="url(#ag40)"/></g>
<polygon points="513.6,116.7 554.3,130.8 516.7,138.6 515.5,131" fill="#FF0000" stroke="#FF0000" stroke-width="0.6" stroke-linejoin="round"/>
<polygon points="513.6,116.7 518.5,118.4 517.5,124.8 513.6,124.6" fill="#F8C8A0"/>
<defs><linearGradient id="ag41" gradientUnits="userSpaceOnUse" x1="372.9" y1="157.6" x2="382.3" y2="160.1"><stop offset="0" stop-color="#CC1038"/><stop offset="0.15" stop-color="#E71F3E"/><stop offset="0.3" stop-color="#F22D45"/><stop offset="0.42" stop-color="#F4374B"/><stop offset="0.55" stop-color="#F43344"/><stop offset="0.7" stop-color="#F42838"/><stop offset="0.85" stop-color="#F41D2D"/><stop offset="1" stop-color="#F41222"/></linearGradient><linearGradient id="ag42" gradientUnits="userSpaceOnUse" x1="372.5" y1="159.5" x2="382.5" y2="160.2"><stop offset="0" stop-color="#CC1038"/><stop offset="0.15" stop-color="#E71F3E"/><stop offset="0.3" stop-color="#F22D45"/><stop offset="0.42" stop-color="#F4374B"/><stop offset="0.55" stop-color="#F43344"/><stop offset="0.7" stop-color="#F42838"/><stop offset="0.85" stop-color="#F41D2D"/><stop offset="1" stop-color="#F41222"/></linearGradient><linearGradient id="ag43" gradientUnits="userSpaceOnUse" x1="372.5" y1="160.8" x2="382.4" y2="161.5"><stop offset="0" stop-color="#CC1038"/><stop offset="0.15" stop-color="#E71F3E"/><stop offset="0.3" stop-color="#F22D45"/><stop offset="0.42" stop-color="#F4374B"/><stop offset="0.55" stop-color="#F43344"/><stop offset="0.7" stop-color="#F42838"/><stop offset="0.85" stop-color="#F41D2D"/><stop offset="1" stop-color="#F41222"/></linearGradient><linearGradient id="ag44" gradientUnits="userSpaceOnUse" x1="372.4" y1="162.3" x2="382.3" y2="162.9"><stop offset="0" stop-color="#CC1038"/><stop offset="0.15" stop-color="#E71F3E"/><stop offset="0.3" stop-color="#F22D45"/><stop offset="0.42" stop-color="#F4374B"/><stop offset="0.55" stop-color="#F43344"/><stop offset="0.7" stop-color="#F42838"/><stop offset="0.85" stop-color="#F41D2D"/><stop offset="1" stop-color="#F41222"/></linearGradient><linearGradient id="ag45" gradientUnits="userSpaceOnUse" x1="372.3" y1="164.0" x2="382.2" y2="164.4"><stop offset="0" stop-color="#CD133A"/><stop offset="0.15" stop-color="#E82543"/><stop offset="0.3" stop-color="#F2364D"/><stop offset="0.42" stop-color="#F44153"/><stop offset="0.55" stop-color="#F43B4C"/><stop offset="0.7" stop-color="#F42D3D"/><stop offset="0.85" stop-color="#F41F2F"/><stop offset="1" stop-color="#F41323"/></linearGradient><linearGradient id="ag46" gradientUnits="userSpaceOnUse" x1="372.3" y1="165.9" x2="382.1" y2="165.9"><stop offset="0" stop-color="#CE193F"/><stop offset="0.15" stop-color="#E9314E"/><stop offset="0.3" stop-color="#F3485D"/><stop offset="0.42" stop-color="#F55465"/><stop offset="0.55" stop-color="#F54C5C"/><stop offset="0.7" stop-color="#F53948"/><stop offset="0.85" stop-color="#F42534"/><stop offset="1" stop-color="#F41524"/></linearGradient><linearGradient id="ag47" gradientUnits="userSpaceOnUse" x1="372.3" y1="167.9" x2="382.2" y2="167.3"><stop offset="0" stop-color="#CF1F44"/><stop offset="0.15" stop-color="#EA3E58"/><stop offset="0.3" stop-color="#F45A6D"/><stop offset="0.42" stop-color="#F66776"/><stop offset="0.55" stop-color="#F65E6B"/><stop offset="0.7" stop-color="#F54452"/><stop offset="0.85" stop-color="#F52A39"/><stop offset="1" stop-color="#F41626"/></linearGradient><linearGradient id="ag48" gradientUnits="userSpaceOnUse" x1="372.5" y1="169.8" x2="382.3" y2="168.6"><stop offset="0" stop-color="#D02549"/><stop offset="0.15" stop-color="#EC4A63"/><stop offset="0.3" stop-color="#F66C7D"/><stop offset="0.42" stop-color="#F77A87"/><stop offset="0.55" stop-color="#F76F7B"/><stop offset="0.7" stop-color="#F64F5D"/><stop offset="0.85" stop-color="#F52F3E"/><stop offset="1" stop-color="#F41828"/></linearGradient><linearGradient id="ag49" gradientUnits="userSpaceOnUse" x1="372.8" y1="171.7" x2="382.5" y2="169.9"><stop offset="0" stop-color="#D22A4E"/><stop offset="0.15" stop-color="#ED566E"/><stop offset="0.3" stop-color="#F77E8D"/><stop offset="0.42" stop-color="#F88E99"/><stop offset="0.55" stop-color="#F8808B"/><stop offset="0.7" stop-color="#F75A67"/><stop offset="0.85" stop-color="#F53443"/><stop offset="1" stop-color="#F41A29"/></linearGradient><linearGradient id="ag50" gradientUnits="userSpaceOnUse" x1="373.2" y1="173.5" x2="382.7" y2="171.3"><stop offset="0" stop-color="#D33053"/><stop offset="0.15" stop-color="#EE6278"/><stop offset="0.3" stop-color="#F8909D"/><stop offset="0.42" stop-color="#FAA1AA"/><stop offset="0.55" stop-color="#F9919B"/><stop offset="0.7" stop-color="#F76671"/><stop offset="0.85" stop-color="#F53947"/><stop offset="1" stop-color="#F41B2B"/></linearGradient><linearGradient id="ag51" gradientUnits="userSpaceOnUse" x1="373.7" y1="175.2" x2="383.1" y2="172.7"><stop offset="0" stop-color="#D43658"/><stop offset="0.15" stop-color="#F06F83"/><stop offset="0.3" stop-color="#F9A2AD"/><stop offset="0.42" stop-color="#FBB4BB"/><stop offset="0.55" stop-color="#FAA3AA"/><stop offset="0.7" stop-color="#F8717C"/><stop offset="0.85" stop-color="#F63F4C"/><stop offset="1" stop-color="#F51D2C"/></linearGradient><linearGradient id="ag52" gradientUnits="userSpaceOnUse" x1="374.2" y1="177.0" x2="383.5" y2="174.1"><stop offset="0" stop-color="#D53C5D"/><stop offset="0.15" stop-color="#F17B8D"/><stop offset="0.3" stop-color="#FAB4BD"/><stop offset="0.42" stop-color="#FCC7CC"/><stop offset="0.55" stop-color="#FBB4BA"/><stop offset="0.7" stop-color="#F87C86"/><stop offset="0.85" stop-color="#F64451"/><stop offset="1" stop-color="#F51F2E"/></linearGradient><linearGradient id="ag53" gradientUnits="userSpaceOnUse" x1="374.9" y1="178.9" x2="384.0" y2="175.6"><stop offset="0" stop-color="#D74262"/><stop offset="0.15" stop-color="#F28798"/><stop offset="0.3" stop-color="#FBC6CD"/><stop offset="0.42" stop-color="#FDDADE"/><stop offset="0.55" stop-color="#FCC5CA"/><stop offset="0.7" stop-color="#F98891"/><stop offset="0.85" stop-color="#F64956"/><stop offset="1" stop-color="#F5202F"/></linearGradient><linearGradient id="ag54" gradientUnits="userSpaceOnUse" x1="375.6" y1="180.7" x2="384.5" y2="177.1"><stop offset="0" stop-color="#D84867"/><stop offset="0.15" stop-color="#F393A2"/><stop offset="0.3" stop-color="#FDD8DD"/><stop offset="0.42" stop-color="#FEEDEF"/><stop offset="0.55" stop-color="#FDD6DA"/><stop offset="0.7" stop-color="#F9939B"/><stop offset="0.85" stop-color="#F64E5B"/><stop offset="1" stop-color="#F52231"/></linearGradient><linearGradient id="ag55" gradientUnits="userSpaceOnUse" x1="376.4" y1="182.6" x2="385.1" y2="178.5"><stop offset="0" stop-color="#D94B69"/><stop offset="0.15" stop-color="#F49AA8"/><stop offset="0.3" stop-color="#FDE1E5"/><stop offset="0.42" stop-color="#FFF7F8"/><stop offset="0.55" stop-color="#FDDFE2"/><stop offset="0.7" stop-color="#FA99A0"/><stop offset="0.85" stop-color="#F7515D"/><stop offset="1" stop-color="#F52332"/></linearGradient><linearGradient id="ag56" gradientUnits="userSpaceOnUse" x1="377.3" y1="184.4" x2="385.8" y2="179.9"><stop offset="0" stop-color="#D94B69"/><stop offset="0.15" stop-color="#F49AA8"/><stop offset="0.3" stop-color="#FDE1E5"/><stop offset="0.42" stop-color="#FFF7F8"/><stop offset="0.55" stop-color="#FDDFE2"/><stop offset="0.7" stop-color="#FA99A0"/><stop offset="0.85" stop-color="#F7515D"/><stop offset="1" stop-color="#F52332"/></linearGradient><linearGradient id="ag57" gradientUnits="userSpaceOnUse" x1="378.4" y1="186.3" x2="386.6" y2="181.4"><stop offset="0" stop-color="#D94B69"/><stop offset="0.15" stop-color="#F49AA8"/><stop offset="0.3" stop-color="#FDE1E5"/><stop offset="0.42" stop-color="#FFF7F8"/><stop offset="0.55" stop-color="#FDDFE2"/><stop offset="0.7" stop-color="#FA99A0"/><stop offset="0.85" stop-color="#F7515D"/><stop offset="1" stop-color="#F52332"/></linearGradient><linearGradient id="ag58" gradientUnits="userSpaceOnUse" x1="379.5" y1="188.1" x2="387.5" y2="182.8"><stop offset="0" stop-color="#D94B69"/><stop offset="0.15" stop-color="#F49AA8"/><stop offset="0.3" stop-color="#FDE1E5"/><stop offset="0.42" stop-color="#FFF7F8"/><stop offset="0.55" stop-color="#FDDFE2"/><stop offset="0.7" stop-color="#FA99A0"/><stop offset="0.85" stop-color="#F7515D"/><stop offset="1" stop-color="#F52332"/></linearGradient><linearGradient id="ag59" gradientUnits="userSpaceOnUse" x1="380.7" y1="189.9" x2="388.5" y2="184.3"><stop offset="0" stop-color="#D94B69"/><stop offset="0.15" stop-color="#F49AA8"/><stop offset="0.3" stop-color="#FDE1E5"/><stop offset="0.42" stop-color="#FFF7F8"/><stop offset="0.55" stop-color="#FDDFE2"/><stop offset="0.7" stop-color="#FA99A0"/><stop offset="0.85" stop-color="#F7515D"/><stop offset="1" stop-color="#F52332"/></linearGradient><linearGradient id="ag60" gradientUnits="userSpaceOnUse" x1="382.1" y1="191.6" x2="389.6" y2="185.9"><stop offset="0" stop-color="#D94B69"/><stop offset="0.15" stop-color="#F49AA8"/><stop offset="0.3" stop-color="#FDE1E5"/><stop offset="0.42" stop-color="#FFF7F8"/><stop offset="0.55" stop-color="#FDDFE2"/><stop offset="0.7" stop-color="#FA99A0"/><stop offset="0.85" stop-color="#F7515D"/><stop offset="1" stop-color="#F52332"/></linearGradient><linearGradient id="ag61" gradientUnits="userSpaceOnUse" x1="383.4" y1="193.4" x2="390.8" y2="187.4"><stop offset="0" stop-color="#D94B69"/><stop offset="0.15" stop-color="#F49AA8"/><stop offset="0.3" stop-color="#FDE1E5"/><stop offset="0.42" stop-color="#FFF7F8"/><stop offset="0.55" stop-color="#FDDFE2"/><stop offset="0.7" stop-color="#FA99A0"/><stop offset="0.85" stop-color="#F7515D"/><stop offset="1" stop-color="#F52332"/></linearGradient><linearGradient id="ag62" gradientUnits="userSpaceOnUse" x1="384.9" y1="195.1" x2="392.1" y2="189.0"><stop offset="0" stop-color="#D94B69"/><stop offset="0.15" stop-color="#F49AA8"/><stop offset="0.3" stop-color="#FDE1E5"/><stop offset="0.42" stop-color="#FFF7F8"/><stop offset="0.55" stop-color="#FDDFE2"/><stop offset="0.7" stop-color="#FA99A0"/><stop offset="0.85" stop-color="#F7515D"/><stop offset="1" stop-color="#F52332"/></linearGradient><linearGradient id="ag63" gradientUnits="userSpaceOnUse" x1="386.3" y1="196.7" x2="393.4" y2="190.5"><stop offset="0" stop-color="#D94B69"/><stop offset="0.15" stop-color="#F49AA8"/><stop offset="0.3" stop-color="#FDE1E5"/><stop offset="0.42" stop-color="#FFF7F8"/><stop offset="0.55" stop-color="#FDDFE2"/><stop offset="0.7" stop-color="#FA99A0"/><stop offset="0.85" stop-color="#F7515D"/><stop offset="1" stop-color="#F52332"/></linearGradient><linearGradient id="ag64" gradientUnits="userSpaceOnUse" x1="387.8" y1="198.4" x2="394.8" y2="192.0"><stop offset="0" stop-color="#D94B69"/><stop offset="0.15" stop-color="#F49AA8"/><stop offset="0.3" stop-color="#FDE1E5"/><stop offset="0.42" stop-color="#FFF7F8"/><stop offset="0.55" stop-color="#FDDFE2"/><stop offset="0.7" stop-color="#FA99A0"/><stop offset="0.85" stop-color="#F7515D"/><stop offset="1" stop-color="#F52332"/></linearGradient><linearGradient id="ag65" gradientUnits="userSpaceOnUse" x1="389.4" y1="200.0" x2="396.1" y2="193.5"><stop offset="0" stop-color="#D84967"/><stop offset="0.15" stop-color="#F495A3"/><stop offset="0.3" stop-color="#FDDADF"/><stop offset="0.42" stop-color="#FEF0F1"/><stop offset="0.55" stop-color="#FDD8DB"/><stop offset="0.7" stop-color="#FA949C"/><stop offset="0.85" stop-color="#F64F5B"/><stop offset="1" stop-color="#F52231"/></linearGradient><linearGradient id="ag66" gradientUnits="userSpaceOnUse" x1="391.0" y1="201.7" x2="397.6" y2="195.0"><stop offset="0" stop-color="#D74463"/><stop offset="0.15" stop-color="#F38B9B"/><stop offset="0.3" stop-color="#FCCCD2"/><stop offset="0.42" stop-color="#FDE1E3"/><stop offset="0.55" stop-color="#FCCBCF"/><stop offset="0.7" stop-color="#F98B94"/><stop offset="0.85" stop-color="#F64B58"/><stop offset="1" stop-color="#F52130"/></linearGradient><linearGradient id="ag67" gradientUnits="userSpaceOnUse" x1="392.8" y1="203.3" x2="399.1" y2="196.5"><stop offset="0" stop-color="#D63F5F"/><stop offset="0.15" stop-color="#F28293"/><stop offset="0.3" stop-color="#FBBEC6"/><stop offset="0.42" stop-color="#FCD2D6"/><stop offset="0.55" stop-color="#FBBDC3"/><stop offset="0.7" stop-color="#F9838C"/><stop offset="0.85" stop-color="#F64754"/><stop offset="1" stop-color="#F5202F"/></linearGradient><linearGradient id="ag68" gradientUnits="userSpaceOnUse" x1="394.5" y1="204.9" x2="400.8" y2="198.0"><stop offset="0" stop-color="#D53B5C"/><stop offset="0.15" stop-color="#F1788B"/><stop offset="0.3" stop-color="#FAB0B9"/><stop offset="0.42" stop-color="#FCC3C8"/><stop offset="0.55" stop-color="#FBB0B6"/><stop offset="0.7" stop-color="#F87A84"/><stop offset="0.85" stop-color="#F64350"/><stop offset="1" stop-color="#F51E2D"/></linearGradient><linearGradient id="ag69" gradientUnits="userSpaceOnUse" x1="396.3" y1="206.5" x2="402.4" y2="199.5"><stop offset="0" stop-color="#D43658"/><stop offset="0.15" stop-color="#F06E82"/><stop offset="0.3" stop-color="#F9A2AD"/><stop offset="0.42" stop-color="#FBB4BB"/><stop offset="0.55" stop-color="#FAA2AA"/><stop offset="0.7" stop-color="#F8717C"/><stop offset="0.85" stop-color="#F63F4C"/><stop offset="1" stop-color="#F51D2C"/></linearGradient><linearGradient id="ag70" gradientUnits="userSpaceOnUse" x1="398.0" y1="208.0" x2="404.1" y2="201.0"><stop offset="0" stop-color="#D33254"/><stop offset="0.15" stop-color="#EE657A"/><stop offset="0.3" stop-color="#F894A0"/><stop offset="0.42" stop-color="#FAA5AD"/><stop offset="0.55" stop-color="#F9959E"/><stop offset="0.7" stop-color="#F76873"/><stop offset="0.85" stop-color="#F53B48"/><stop offset="1" stop-color="#F41C2B"/></linearGradient><linearGradient id="ag71" gradientUnits="userSpaceOnUse" x1="399.6" y1="209.4" x2="405.8" y2="202.5"><stop offset="0" stop-color="#D22D50"/><stop offset="0.15" stop-color="#ED5B72"/><stop offset="0.3" stop-color="#F78694"/><stop offset="0.42" stop-color="#F996A0"/><stop offset="0.55" stop-color="#F98792"/><stop offset="0.7" stop-color="#F75F6B"/><stop offset="0.85" stop-color="#F53645"/><stop offset="1" stop-color="#F41A2A"/></linearGradient><linearGradient id="ag72" gradientUnits="userSpaceOnUse" x1="401.2" y1="210.8" x2="407.3" y2="203.9"><stop offset="0" stop-color="#D1284C"/><stop offset="0.15" stop-color="#EC526A"/><stop offset="0.3" stop-color="#F67887"/><stop offset="0.42" stop-color="#F88792"/><stop offset="0.55" stop-color="#F87A85"/><stop offset="0.7" stop-color="#F65663"/><stop offset="0.85" stop-color="#F53241"/><stop offset="1" stop-color="#F41929"/></linearGradient><linearGradient id="ag73" gradientUnits="userSpaceOnUse" x1="402.6" y1="212.1" x2="408.8" y2="205.3"><stop offset="0" stop-color="#D02448"/><stop offset="0.15" stop-color="#EB4861"/><stop offset="0.3" stop-color="#F5697B"/><stop offset="0.42" stop-color="#F77885"/><stop offset="0.55" stop-color="#F76D79"/><stop offset="0.7" stop-color="#F64E5B"/><stop offset="0.85" stop-color="#F52E3D"/><stop offset="1" stop-color="#F41827"/></linearGradient><linearGradient id="ag74" gradientUnits="userSpaceOnUse" x1="404.1" y1="213.4" x2="410.3" y2="206.6"><stop offset="0" stop-color="#CF1F45"/><stop offset="0.15" stop-color="#EA3F59"/><stop offset="0.3" stop-color="#F55B6E"/><stop offset="0.42" stop-color="#F66977"/><stop offset="0.55" stop-color="#F65F6D"/><stop offset="0.7" stop-color="#F54553"/><stop offset="0.85" stop-color="#F52A39"/><stop offset="1" stop-color="#F41626"/></linearGradient><linearGradient id="ag75" gradientUnits="userSpaceOnUse" x1="405.6" y1="214.7" x2="411.7" y2="207.9"><stop offset="0" stop-color="#CE1B41"/><stop offset="0.15" stop-color="#E93551"/><stop offset="0.3" stop-color="#F44D62"/><stop offset="0.42" stop-color="#F65A6A"/><stop offset="0.55" stop-color="#F65260"/><stop offset="0.7" stop-color="#F53C4B"/><stop offset="0.85" stop-color="#F42636"/><stop offset="1" stop-color="#F41525"/></linearGradient><linearGradient id="ag76" gradientUnits="userSpaceOnUse" x1="407.1" y1="216.0" x2="413.2" y2="209.2"><stop offset="0" stop-color="#CD163D"/><stop offset="0.15" stop-color="#E82B49"/><stop offset="0.3" stop-color="#F33F55"/><stop offset="0.42" stop-color="#F54B5C"/><stop offset="0.55" stop-color="#F54454"/><stop offset="0.7" stop-color="#F53343"/><stop offset="0.85" stop-color="#F42232"/><stop offset="1" stop-color="#F41424"/></linearGradient><linearGradient id="ag77" gradientUnits="userSpaceOnUse" x1="408.4" y1="217.2" x2="414.5" y2="210.4"><stop offset="0" stop-color="#CC1139"/><stop offset="0.15" stop-color="#E72240"/><stop offset="0.3" stop-color="#F23149"/><stop offset="0.42" stop-color="#F43C4F"/><stop offset="0.55" stop-color="#F43748"/><stop offset="0.7" stop-color="#F42A3A"/><stop offset="0.85" stop-color="#F41E2E"/><stop offset="1" stop-color="#F41222"/></linearGradient><linearGradient id="ag78" gradientUnits="userSpaceOnUse" x1="409.7" y1="218.3" x2="415.7" y2="211.6"><stop offset="0" stop-color="#CC1038"/><stop offset="0.15" stop-color="#E71F3E"/><stop offset="0.3" stop-color="#F22D45"/><stop offset="0.42" stop-color="#F4374B"/><stop offset="0.55" stop-color="#F43344"/><stop offset="0.7" stop-color="#F42838"/><stop offset="0.85" stop-color="#F41D2D"/><stop offset="1" stop-color="#F41222"/></linearGradient><linearGradient id="ag79" gradientUnits="userSpaceOnUse" x1="410.7" y1="219.3" x2="416.8" y2="212.5"><stop offset="0" stop-color="#CC1038"/><stop offset="0.15" stop-color="#E71F3E"/><stop offset="0.3" stop-color="#F22D45"/><stop offset="0.42" stop-color="#F4374B"/><stop offset="0.55" stop-color="#F43344"/><stop offset="0.7" stop-color="#F42838"/><stop offset="0.85" stop-color="#F41D2D"/><stop offset="1" stop-color="#F41222"/></linearGradient><linearGradient id="ag80" gradientUnits="userSpaceOnUse" x1="411.6" y1="220.0" x2="417.6" y2="213.3"><stop offset="0" stop-color="#CC1038"/><stop offset="0.15" stop-color="#E71F3E"/><stop offset="0.3" stop-color="#F22D45"/><stop offset="0.42" stop-color="#F4374B"/><stop offset="0.55" stop-color="#F43344"/><stop offset="0.7" stop-color="#F42838"/><stop offset="0.85" stop-color="#F41D2D"/><stop offset="1" stop-color="#F41222"/></linearGradient></defs>
<g stroke-width="0.7" stroke-linejoin="round"><polygon points="373.2,156.2 372.6,159.0 382.5,159.6 382.0,160.6" fill="url(#ag41)" stroke="url(#ag41)"/><polygon points="372.6,159.0 372.5,160.1 382.4,160.8 382.5,159.6" fill="url(#ag42)" stroke="url(#ag42)"/><polygon points="372.5,160.1 372.4,161.5 382.3,162.2 382.4,160.8" fill="url(#ag43)" stroke="url(#ag43)"/><polygon points="372.4,161.5 372.3,163.1 382.2,163.6 382.3,162.2" fill="url(#ag44)" stroke="url(#ag44)"/><polygon points="372.3,163.1 372.3,164.9 382.1,165.1 382.2,163.6" fill="url(#ag45)" stroke="url(#ag45)"/><polygon points="372.3,164.9 372.3,166.9 382.1,166.6 382.1,165.1" fill="url(#ag46)" stroke="url(#ag46)"/><polygon points="372.3,166.9 372.4,168.8 382.2,168.0 382.1,166.6" fill="url(#ag47)" stroke="url(#ag47)"/><polygon points="372.4,168.8 372.7,170.8 382.3,169.2 382.2,168.0" fill="url(#ag48)" stroke="url(#ag48)"/><polygon points="372.7,170.8 373.0,172.6 382.6,170.5 382.3,169.2" fill="url(#ag49)" stroke="url(#ag49)"/><polygon points="373.0,172.6 373.4,174.3 382.9,172.0 382.6,170.5" fill="url(#ag50)" stroke="url(#ag50)"/><polygon points="373.4,174.3 373.9,176.1 383.3,173.4 382.9,172.0" fill="url(#ag51)" stroke="url(#ag51)"/><polygon points="373.9,176.1 374.5,177.9 383.7,174.9 383.3,173.4" fill="url(#ag52)" stroke="url(#ag52)"/><polygon points="374.5,177.9 375.2,179.8 384.2,176.3 383.7,174.9" fill="url(#ag53)" stroke="url(#ag53)"/><polygon points="375.2,179.8 376.0,181.6 384.8,177.8 384.2,176.3" fill="url(#ag54)" stroke="url(#ag54)"/><polygon points="376.0,181.6 376.8,183.5 385.5,179.2 384.8,177.8" fill="url(#ag55)" stroke="url(#ag55)"/><polygon points="376.8,183.5 377.8,185.3 386.2,180.7 385.5,179.2" fill="url(#ag56)" stroke="url(#ag56)"/><polygon points="377.8,185.3 378.9,187.2 387.0,182.1 386.2,180.7" fill="url(#ag57)" stroke="url(#ag57)"/><polygon points="378.9,187.2 380.1,189.0 388.0,183.6 387.0,182.1" fill="url(#ag58)" stroke="url(#ag58)"/><polygon points="380.1,189.0 381.4,190.7 389.0,185.1 388.0,183.6" fill="url(#ag59)" stroke="url(#ag59)"/><polygon points="381.4,190.7 382.7,192.5 390.2,186.6 389.0,185.1" fill="url(#ag60)" stroke="url(#ag60)"/><polygon points="382.7,192.5 384.1,194.2 391.4,188.2 390.2,186.6" fill="url(#ag61)" stroke="url(#ag61)"/><polygon points="384.1,194.2 385.6,195.9 392.7,189.7 391.4,188.2" fill="url(#ag62)" stroke="url(#ag62)"/><polygon points="385.6,195.9 387.1,197.6 394.1,191.3 392.7,189.7" fill="url(#ag63)" stroke="url(#ag63)"/><polygon points="387.1,197.6 388.6,199.2 395.4,192.8 394.1,191.3" fill="url(#ag64)" stroke="url(#ag64)"/><polygon points="388.6,199.2 390.2,200.9 396.8,194.3 395.4,192.8" fill="url(#ag65)" stroke="url(#ag65)"/><polygon points="390.2,200.9 391.9,202.5 398.3,195.8 396.8,194.3" fill="url(#ag66)" stroke="url(#ag66)"/><polygon points="391.9,202.5 393.6,204.1 399.9,197.3 398.3,195.8" fill="url(#ag67)" stroke="url(#ag67)"/><polygon points="393.6,204.1 395.4,205.7 401.6,198.8 399.9,197.3" fill="url(#ag68)" stroke="url(#ag68)"/><polygon points="395.4,205.7 397.1,207.2 403.3,200.3 401.6,198.8" fill="url(#ag69)" stroke="url(#ag69)"/><polygon points="397.1,207.2 398.8,208.7 404.9,201.8 403.3,200.3" fill="url(#ag70)" stroke="url(#ag70)"/><polygon points="398.8,208.7 400.4,210.1 406.6,203.2 404.9,201.8" fill="url(#ag71)" stroke="url(#ag71)"/><polygon points="400.4,210.1 401.9,211.4 408.1,204.6 406.6,203.2" fill="url(#ag72)" stroke="url(#ag72)"/><polygon points="401.9,211.4 403.4,212.7 409.5,205.9 408.1,204.6" fill="url(#ag73)" stroke="url(#ag73)"/><polygon points="403.4,212.7 404.9,214.1 411.0,207.3 409.5,205.9" fill="url(#ag74)" stroke="url(#ag74)"/><polygon points="404.9,214.1 406.4,215.4 412.5,208.6 411.0,207.3" fill="url(#ag75)" stroke="url(#ag75)"/><polygon points="406.4,215.4 407.8,216.6 413.9,209.9 412.5,208.6" fill="url(#ag76)" stroke="url(#ag76)"/><polygon points="407.8,216.6 409.1,217.8 415.1,211.0 413.9,209.9" fill="url(#ag77)" stroke="url(#ag77)"/><polygon points="409.1,217.8 410.3,218.8 416.3,212.1 415.1,211.0" fill="url(#ag78)" stroke="url(#ag78)"/><polygon points="410.3,218.8 411.2,219.7 417.3,213.0 416.3,212.1" fill="url(#ag79)" stroke="url(#ag79)"/><polygon points="411.2,219.7 412.0,220.3 418.0,213.7 417.3,213.0" fill="url(#ag80)" stroke="url(#ag80)"/></g>
<polygon points="405.5,231 436.4,238.4 426,204.6 418.5,214" fill="#FF0000" stroke="#FF0000" stroke-width="0.6" stroke-linejoin="round"/>
<polygon points="408.5,218 405.5,231 410,226" fill="#F8C8A0"/>
<defs><linearGradient id="ag81" gradientUnits="userSpaceOnUse" x1="428.3" y1="360.3" x2="417.7" y2="361.4"><stop offset="0" stop-color="#CC1038"/><stop offset="0.15" stop-color="#E71F3E"/><stop offset="0.3" stop-color="#F22D45"/><stop offset="0.42" stop-color="#F4374B"/><stop offset="0.55" stop-color="#F43344"/><stop offset="0.7" stop-color="#F42838"/><stop offset="0.85" stop-color="#F41D2D"/><stop offset="1" stop-color="#F41222"/></linearGradient><linearGradient id="ag82" gradientUnits="userSpaceOnUse" x1="428.5" y1="362.8" x2="417.0" y2="361.6"><stop offset="0" stop-color="#CC1038"/><stop offset="0.15" stop-color="#E71F3E"/><stop offset="0.3" stop-color="#F22D45"/><stop offset="0.42" stop-color="#F4374B"/><stop offset="0.55" stop-color="#F43344"/><stop offset="0.7" stop-color="#F42838"/><stop offset="0.85" stop-color="#F41D2D"/><stop offset="1" stop-color="#F41222"/></linearGradient><linearGradient id="ag83" gradientUnits="userSpaceOnUse" x1="428.4" y1="364.2" x2="416.9" y2="363.3"><stop offset="0" stop-color="#CC1038"/><stop offset="0.15" stop-color="#E71F3E"/><stop offset="0.3" stop-color="#F22D45"/><stop offset="0.42" stop-color="#F4374B"/><stop offset="0.55" stop-color="#F43344"/><stop offset="0.7" stop-color="#F42838"/><stop offset="0.85" stop-color="#F41D2D"/><stop offset="1" stop-color="#F41222"/></linearGradient><linearGradient id="ag84" gradientUnits="userSpaceOnUse" x1="428.2" y1="366.1" x2="416.8" y2="365.1"><stop offset="0" stop-color="#CC1038"/><stop offset="0.15" stop-color="#E71F3E"/><stop offset="0.3" stop-color="#F22D45"/><stop offset="0.42" stop-color="#F4374B"/><stop offset="0.55" stop-color="#F43344"/><stop offset="0.7" stop-color="#F42838"/><stop offset="0.85" stop-color="#F41D2D"/><stop offset="1" stop-color="#F41222"/></linearGradient><linearGradient id="ag85" gradientUnits="userSpaceOnUse" x1="428.0" y1="368.2" x2="416.6" y2="367.0"><stop offset="0" stop-color="#CC1038"/><stop offset="0.15" stop-color="#E71F3E"/><stop offset="0.3" stop-color="#F22D45"/><stop offset="0.42" stop-color="#F4374B"/><stop offset="0.55" stop-color="#F43344"/><stop offset="0.7" stop-color="#F42838"/><stop offset="0.85" stop-color="#F41D2D"/><stop offset="1" stop-color="#F41222"/></linearGradient><linearGradient id="ag86" gradientUnits="userSpaceOnUse" x1="427.7" y1="370.6" x2="416.3" y2="368.9"><stop offset="0" stop-color="#CD143C"/><stop offset="0.15" stop-color="#E82846"/><stop offset="0.3" stop-color="#F23B51"/><stop offset="0.42" stop-color="#F44658"/><stop offset="0.55" stop-color="#F54050"/><stop offset="0.7" stop-color="#F43040"/><stop offset="0.85" stop-color="#F42130"/><stop offset="1" stop-color="#F41323"/></linearGradient><linearGradient id="ag87" gradientUnits="userSpaceOnUse" x1="427.3" y1="373.1" x2="416.0" y2="370.9"><stop offset="0" stop-color="#CE1B41"/><stop offset="0.15" stop-color="#E93652"/><stop offset="0.3" stop-color="#F44E62"/><stop offset="0.42" stop-color="#F65B6B"/><stop offset="0.55" stop-color="#F65261"/><stop offset="0.7" stop-color="#F53D4B"/><stop offset="0.85" stop-color="#F42636"/><stop offset="1" stop-color="#F41525"/></linearGradient><linearGradient id="ag88" gradientUnits="userSpaceOnUse" x1="426.7" y1="375.8" x2="415.6" y2="372.8"><stop offset="0" stop-color="#D02146"/><stop offset="0.15" stop-color="#EB435D"/><stop offset="0.3" stop-color="#F56274"/><stop offset="0.42" stop-color="#F7707D"/><stop offset="0.55" stop-color="#F76572"/><stop offset="0.7" stop-color="#F64957"/><stop offset="0.85" stop-color="#F52C3B"/><stop offset="1" stop-color="#F41727"/></linearGradient><linearGradient id="ag89" gradientUnits="userSpaceOnUse" x1="425.8" y1="378.5" x2="415.0" y2="374.7"><stop offset="0" stop-color="#D1284C"/><stop offset="0.15" stop-color="#EC5068"/><stop offset="0.3" stop-color="#F67585"/><stop offset="0.42" stop-color="#F88490"/><stop offset="0.55" stop-color="#F87883"/><stop offset="0.7" stop-color="#F65562"/><stop offset="0.85" stop-color="#F53240"/><stop offset="1" stop-color="#F41928"/></linearGradient><linearGradient id="ag90" gradientUnits="userSpaceOnUse" x1="424.7" y1="381.3" x2="414.3" y2="376.5"><stop offset="0" stop-color="#D22E51"/><stop offset="0.15" stop-color="#EE5E74"/><stop offset="0.3" stop-color="#F78997"/><stop offset="0.42" stop-color="#F999A3"/><stop offset="0.55" stop-color="#F98B94"/><stop offset="0.7" stop-color="#F7616D"/><stop offset="0.85" stop-color="#F53746"/><stop offset="1" stop-color="#F41B2A"/></linearGradient><linearGradient id="ag91" gradientUnits="userSpaceOnUse" x1="423.4" y1="383.9" x2="413.3" y2="378.3"><stop offset="0" stop-color="#D43456"/><stop offset="0.15" stop-color="#EF6B7F"/><stop offset="0.3" stop-color="#F99DA8"/><stop offset="0.42" stop-color="#FAAEB6"/><stop offset="0.55" stop-color="#FA9DA6"/><stop offset="0.7" stop-color="#F86E79"/><stop offset="0.85" stop-color="#F63D4B"/><stop offset="1" stop-color="#F41D2C"/></linearGradient><linearGradient id="ag92" gradientUnits="userSpaceOnUse" x1="421.9" y1="386.4" x2="412.2" y2="380.3"><stop offset="0" stop-color="#D53B5C"/><stop offset="0.15" stop-color="#F1788B"/><stop offset="0.3" stop-color="#FAB0B9"/><stop offset="0.42" stop-color="#FCC3C9"/><stop offset="0.55" stop-color="#FBB0B7"/><stop offset="0.7" stop-color="#F87A84"/><stop offset="0.85" stop-color="#F64350"/><stop offset="1" stop-color="#F51E2E"/></linearGradient><linearGradient id="ag93" gradientUnits="userSpaceOnUse" x1="420.2" y1="388.9" x2="410.8" y2="382.4"><stop offset="0" stop-color="#D74161"/><stop offset="0.15" stop-color="#F28696"/><stop offset="0.3" stop-color="#FBC4CB"/><stop offset="0.42" stop-color="#FDD8DC"/><stop offset="0.55" stop-color="#FCC3C8"/><stop offset="0.7" stop-color="#F9868F"/><stop offset="0.85" stop-color="#F64855"/><stop offset="1" stop-color="#F5202F"/></linearGradient><linearGradient id="ag94" gradientUnits="userSpaceOnUse" x1="418.4" y1="391.5" x2="409.2" y2="384.6"><stop offset="0" stop-color="#D84866"/><stop offset="0.15" stop-color="#F393A2"/><stop offset="0.3" stop-color="#FCD8DC"/><stop offset="0.42" stop-color="#FEEDEE"/><stop offset="0.55" stop-color="#FDD5D9"/><stop offset="0.7" stop-color="#F9929B"/><stop offset="0.85" stop-color="#F64E5B"/><stop offset="1" stop-color="#F52231"/></linearGradient><linearGradient id="ag95" gradientUnits="userSpaceOnUse" x1="416.5" y1="394.0" x2="407.4" y2="386.9"><stop offset="0" stop-color="#D94B69"/><stop offset="0.15" stop-color="#F49AA8"/><stop offset="0.3" stop-color="#FDE1E5"/><stop offset="0.42" stop-color="#FFF7F8"/><stop offset="0.55" stop-color="#FDDFE2"/><stop offset="0.7" stop-color="#FA99A0"/><stop offset="0.85" stop-color="#F7515D"/><stop offset="1" stop-color="#F52332"/></linearGradient><linearGradient id="ag96" gradientUnits="userSpaceOnUse" x1="414.4" y1="396.6" x2="405.6" y2="389.2"><stop offset="0" stop-color="#D94B69"/><stop offset="0.15" stop-color="#F49AA8"/><stop offset="0.3" stop-color="#FDE1E5"/><stop offset="0.42" stop-color="#FFF7F8"/><stop offset="0.55" stop-color="#FDDFE2"/><stop offset="0.7" stop-color="#FA99A0"/><stop offset="0.85" stop-color="#F7515D"/><stop offset="1" stop-color="#F52332"/></linearGradient><linearGradient id="ag97" gradientUnits="userSpaceOnUse" x1="412.3" y1="399.1" x2="403.5" y2="391.6"><stop offset="0" stop-color="#D94B69"/><stop offset="0.15" stop-color="#F49AA8"/><stop offset="0.3" stop-color="#FDE1E5"/><stop offset="0.42" stop-color="#FFF7F8"/><stop offset="0.55" stop-color="#FDDFE2"/><stop offset="0.7" stop-color="#FA99A0"/><stop offset="0.85" stop-color="#F7515D"/><stop offset="1" stop-color="#F52332"/></linearGradient><linearGradient id="ag98" gradientUnits="userSpaceOnUse" x1="410.0" y1="401.7" x2="401.4" y2="394.0"><stop offset="0" stop-color="#D94B69"/><stop offset="0.15" stop-color="#F49AA8"/><stop offset="0.3" stop-color="#FDE1E5"/><stop offset="0.42" stop-color="#FFF7F8"/><stop offset="0.55" stop-color="#FDDFE2"/><stop offset="0.7" stop-color="#FA99A0"/><stop offset="0.85" stop-color="#F7515D"/><stop offset="1" stop-color="#F52332"/></linearGradient><linearGradient id="ag99" gradientUnits="userSpaceOnUse" x1="407.7" y1="404.2" x2="399.2" y2="396.4"><stop offset="0" stop-color="#D94B69"/><stop offset="0.15" stop-color="#F49AA8"/><stop offset="0.3" stop-color="#FDE1E5"/><stop offset="0.42" stop-color="#FFF7F8"/><stop offset="0.55" stop-color="#FDDFE2"/><stop offset="0.7" stop-color="#FA99A0"/><stop offset="0.85" stop-color="#F7515D"/><stop offset="1" stop-color="#F52332"/></linearGradient><linearGradient id="ag100" gradientUnits="userSpaceOnUse" x1="405.3" y1="406.7" x2="397.0" y2="398.8"><stop offset="0" stop-color="#D94B69"/><stop offset="0.15" stop-color="#F49AA8"/><stop offset="0.3" stop-color="#FDE1E5"/><stop offset="0.42" stop-color="#FFF7F8"/><stop offset="0.55" stop-color="#FDDFE2"/><stop offset="0.7" stop-color="#FA99A0"/><stop offset="0.85" stop-color="#F7515D"/><stop offset="1" stop-color="#F52332"/></linearGradient><linearGradient id="ag101" gradientUnits="userSpaceOnUse" x1="402.8" y1="409.3" x2="394.7" y2="401.2"><stop offset="0" stop-color="#D94B69"/><stop offset="0.15" stop-color="#F49AA8"/><stop offset="0.3" stop-color="#FDE1E5"/><stop offset="0.42" stop-color="#FFF7F8"/><stop offset="0.55" stop-color="#FDDFE2"/><stop offset="0.7" stop-color="#FA99A0"/><stop offset="0.85" stop-color="#F7515D"/><stop offset="1" stop-color="#F52332"/></linearGradient><linearGradient id="ag102" gradientUnits="userSpaceOnUse" x1="400.1" y1="412.0" x2="392.2" y2="403.7"><stop offset="0" stop-color="#D94B69"/><stop offset="0.15" stop-color="#F49AA8"/><stop offset="0.3" stop-color="#FDE1E5"/><stop offset="0.42" stop-color="#FFF7F8"/><stop offset="0.55" stop-color="#FDDFE2"/><stop offset="0.7" stop-color="#FA99A0"/><stop offset="0.85" stop-color="#F7515D"/><stop offset="1" stop-color="#F52332"/></linearGradient><linearGradient id="ag103" gradientUnits="userSpaceOnUse" x1="397.2" y1="414.7" x2="389.4" y2="406.2"><stop offset="0" stop-color="#D94B69"/><stop offset="0.15" stop-color="#F49AA8"/><stop offset="0.3" stop-color="#FDE1E5"/><stop offset="0.42" stop-color="#FFF7F8"/><stop offset="0.55" stop-color="#FDDFE2"/><stop offset="0.7" stop-color="#FA99A0"/><stop offset="0.85" stop-color="#F7515D"/><stop offset="1" stop-color="#F52332"/></linearGradient><linearGradient id="ag104" gradientUnits="userSpaceOnUse" x1="394.2" y1="417.4" x2="386.5" y2="408.8"><stop offset="0" stop-color="#D94B69"/><stop offset="0.15" stop-color="#F49AA8"/><stop offset="0.3" stop-color="#FDE1E5"/><stop offset="0.42" stop-color="#FFF7F8"/><stop offset="0.55" stop-color="#FDDFE2"/><stop offset="0.7" stop-color="#FA99A0"/><stop offset="0.85" stop-color="#F7515D"/><stop offset="1" stop-color="#F52332"/></linearGradient><linearGradient id="ag105" gradientUnits="userSpaceOnUse" x1="391.1" y1="420.1" x2="383.6" y2="411.5"><stop offset="0" stop-color="#D84967"/><stop offset="0.15" stop-color="#F495A3"/><stop offset="0.3" stop-color="#FDDADF"/><stop offset="0.42" stop-color="#FEF0F1"/><stop offset="0.55" stop-color="#FDD8DB"/><stop offset="0.7" stop-color="#FA949C"/><stop offset="0.85" stop-color="#F64F5B"/><stop offset="1" stop-color="#F52231"/></linearGradient><linearGradient id="ag106" gradientUnits="userSpaceOnUse" x1="388.0" y1="422.8" x2="380.5" y2="414.1"><stop offset="0" stop-color="#D74463"/><stop offset="0.15" stop-color="#F38B9B"/><stop offset="0.3" stop-color="#FCCCD2"/><stop offset="0.42" stop-color="#FDE1E3"/><stop offset="0.55" stop-color="#FCCBCF"/><stop offset="0.7" stop-color="#F98B94"/><stop offset="0.85" stop-color="#F64B58"/><stop offset="1" stop-color="#F52130"/></linearGradient><linearGradient id="ag107" gradientUnits="userSpaceOnUse" x1="385.0" y1="425.4" x2="377.5" y2="416.6"><stop offset="0" stop-color="#D63F5F"/><stop offset="0.15" stop-color="#F28293"/><stop offset="0.3" stop-color="#FBBEC6"/><stop offset="0.42" stop-color="#FCD2D6"/><stop offset="0.55" stop-color="#FBBDC3"/><stop offset="0.7" stop-color="#F9838C"/><stop offset="0.85" stop-color="#F64754"/><stop offset="1" stop-color="#F5202F"/></linearGradient><linearGradient id="ag108" gradientUnits="userSpaceOnUse" x1="382.1" y1="427.9" x2="374.7" y2="419.1"><stop offset="0" stop-color="#D53B5C"/><stop offset="0.15" stop-color="#F1788B"/><stop offset="0.3" stop-color="#FAB0B9"/><stop offset="0.42" stop-color="#FCC3C8"/><stop offset="0.55" stop-color="#FBB0B6"/><stop offset="0.7" stop-color="#F87A84"/><stop offset="0.85" stop-color="#F64350"/><stop offset="1" stop-color="#F51E2D"/></linearGradient><linearGradient id="ag109" gradientUnits="userSpaceOnUse" x1="379.4" y1="430.2" x2="371.9" y2="421.5"><stop offset="0" stop-color="#D43658"/><stop offset="0.15" stop-color="#F06E82"/><stop offset="0.3" stop-color="#F9A2AD"/><stop offset="0.42" stop-color="#FBB4BB"/><stop offset="0.55" stop-color="#FAA2AA"/><stop offset="0.7" stop-color="#F8717C"/><stop offset="0.85" stop-color="#F63F4C"/><stop offset="1" stop-color="#F51D2C"/></linearGradient><linearGradient id="ag110" gradientUnits="userSpaceOnUse" x1="377.0" y1="432.3" x2="369.4" y2="423.6"><stop offset="0" stop-color="#D33254"/><stop offset="0.15" stop-color="#EE657A"/><stop offset="0.3" stop-color="#F894A0"/><stop offset="0.42" stop-color="#FAA5AD"/><stop offset="0.55" stop-color="#F9959E"/><stop offset="0.7" stop-color="#F76873"/><stop offset="0.85" stop-color="#F53B48"/><stop offset="1" stop-color="#F41C2B"/></linearGradient><linearGradient id="ag111" gradientUnits="userSpaceOnUse" x1="374.7" y1="434.3" x2="367.1" y2="425.6"><stop offset="0" stop-color="#D22D50"/><stop offset="0.15" stop-color="#ED5B72"/><stop offset="0.3" stop-color="#F78694"/><stop offset="0.42" stop-color="#F996A0"/><stop offset="0.55" stop-color="#F98792"/><stop offset="0.7" stop-color="#F75F6B"/><stop offset="0.85" stop-color="#F53645"/><stop offset="1" stop-color="#F41A2A"/></linearGradient><linearGradient id="ag112" gradientUnits="userSpaceOnUse" x1="372.6" y1="436.1" x2="365.0" y2="427.5"><stop offset="0" stop-color="#D1284C"/><stop offset="0.15" stop-color="#EC526A"/><stop offset="0.3" stop-color="#F67887"/><stop offset="0.42" stop-color="#F88792"/><stop offset="0.55" stop-color="#F87A85"/><stop offset="0.7" stop-color="#F65663"/><stop offset="0.85" stop-color="#F53241"/><stop offset="1" stop-color="#F41929"/></linearGradient><linearGradient id="ag113" gradientUnits="userSpaceOnUse" x1="370.6" y1="437.9" x2="363.0" y2="429.3"><stop offset="0" stop-color="#D02448"/><stop offset="0.15" stop-color="#EB4861"/><stop offset="0.3" stop-color="#F5697B"/><stop offset="0.42" stop-color="#F77885"/><stop offset="0.55" stop-color="#F76D79"/><stop offset="0.7" stop-color="#F64E5B"/><stop offset="0.85" stop-color="#F52E3D"/><stop offset="1" stop-color="#F41827"/></linearGradient><linearGradient id="ag114" gradientUnits="userSpaceOnUse" x1="368.7" y1="439.6" x2="361.1" y2="430.9"><stop offset="0" stop-color="#CF1F45"/><stop offset="0.15" stop-color="#EA3F59"/><stop offset="0.3" stop-color="#F55B6E"/><stop offset="0.42" stop-color="#F66977"/><stop offset="0.55" stop-color="#F65F6D"/><stop offset="0.7" stop-color="#F54553"/><stop offset="0.85" stop-color="#F52A39"/><stop offset="1" stop-color="#F41626"/></linearGradient><linearGradient id="ag115" gradientUnits="userSpaceOnUse" x1="366.9" y1="441.1" x2="359.3" y2="432.5"><stop offset="0" stop-color="#CE1B41"/><stop offset="0.15" stop-color="#E93551"/><stop offset="0.3" stop-color="#F44D62"/><stop offset="0.42" stop-color="#F65A6A"/><stop offset="0.55" stop-color="#F65260"/><stop offset="0.7" stop-color="#F53C4B"/><stop offset="0.85" stop-color="#F42636"/><stop offset="1" stop-color="#F41525"/></linearGradient><linearGradient id="ag116" gradientUnits="userSpaceOnUse" x1="365.2" y1="442.6" x2="357.7" y2="433.9"><stop offset="0" stop-color="#CD163D"/><stop offset="0.15" stop-color="#E82B49"/><stop offset="0.3" stop-color="#F33F55"/><stop offset="0.42" stop-color="#F54B5C"/><stop offset="0.55" stop-color="#F54454"/><stop offset="0.7" stop-color="#F53343"/><stop offset="0.85" stop-color="#F42232"/><stop offset="1" stop-color="#F41424"/></linearGradient><linearGradient id="ag117" gradientUnits="userSpaceOnUse" x1="363.7" y1="443.9" x2="356.2" y2="435.2"><stop offset="0" stop-color="#CC1139"/><stop offset="0.15" stop-color="#E72240"/><stop offset="0.3" stop-color="#F23149"/><stop offset="0.42" stop-color="#F43C4F"/><stop offset="0.55" stop-color="#F43748"/><stop offset="0.7" stop-color="#F42A3A"/><stop offset="0.85" stop-color="#F41E2E"/><stop offset="1" stop-color="#F41222"/></linearGradient><linearGradient id="ag118" gradientUnits="userSpaceOnUse" x1="362.4" y1="445.1" x2="354.8" y2="436.4"><stop offset="0" stop-color="#CC1038"/><stop offset="0.15" stop-color="#E71F3E"/><stop offset="0.3" stop-color="#F22D45"/><stop offset="0.42" stop-color="#F4374B"/><stop offset="0.55" stop-color="#F43344"/><stop offset="0.7" stop-color="#F42838"/><stop offset="0.85" stop-color="#F41D2D"/><stop offset="1" stop-color="#F41222"/></linearGradient><linearGradient id="ag119" gradientUnits="userSpaceOnUse" x1="361.2" y1="446.1" x2="353.7" y2="437.4"><stop offset="0" stop-color="#CC1038"/><stop offset="0.15" stop-color="#E71F3E"/><stop offset="0.3" stop-color="#F22D45"/><stop offset="0.42" stop-color="#F4374B"/><stop offset="0.55" stop-color="#F43344"/><stop offset="0.7" stop-color="#F42838"/><stop offset="0.85" stop-color="#F41D2D"/><stop offset="1" stop-color="#F41222"/></linearGradient><linearGradient id="ag120" gradientUnits="userSpaceOnUse" x1="360.2" y1="446.9" x2="352.7" y2="438.3"><stop offset="0" stop-color="#CC1038"/><stop offset="0.15" stop-color="#E71F3E"/><stop offset="0.3" stop-color="#F22D45"/><stop offset="0.42" stop-color="#F4374B"/><stop offset="0.55" stop-color="#F43344"/><stop offset="0.7" stop-color="#F42838"/><stop offset="0.85" stop-color="#F41D2D"/><stop offset="1" stop-color="#F41222"/></linearGradient></defs>
<g stroke-width="0.7" stroke-linejoin="round"><polygon points="428.1,358.5 428.5,362.1 417.1,360.8 418.2,362.1" fill="url(#ag81)" stroke="url(#ag81)"/><polygon points="428.5,362.1 428.4,363.4 417.0,362.4 417.1,360.8" fill="url(#ag82)" stroke="url(#ag82)"/><polygon points="428.4,363.4 428.3,365.1 416.8,364.2 417.0,362.4" fill="url(#ag83)" stroke="url(#ag83)"/><polygon points="428.3,365.1 428.1,367.1 416.7,366.0 416.8,364.2" fill="url(#ag84)" stroke="url(#ag84)"/><polygon points="428.1,367.1 427.9,369.4 416.5,367.9 416.7,366.0" fill="url(#ag85)" stroke="url(#ag85)"/><polygon points="427.9,369.4 427.5,371.8 416.2,369.9 416.5,367.9" fill="url(#ag86)" stroke="url(#ag86)"/><polygon points="427.5,371.8 427.0,374.4 415.8,371.9 416.2,369.9" fill="url(#ag87)" stroke="url(#ag87)"/><polygon points="427.0,374.4 426.3,377.1 415.3,373.8 415.8,371.9" fill="url(#ag88)" stroke="url(#ag88)"/><polygon points="426.3,377.1 425.4,379.9 414.7,375.6 415.3,373.8" fill="url(#ag89)" stroke="url(#ag89)"/><polygon points="425.4,379.9 424.1,382.6 413.9,377.4 414.7,375.6" fill="url(#ag90)" stroke="url(#ag90)"/><polygon points="424.1,382.6 422.7,385.2 412.8,379.3 413.9,377.4" fill="url(#ag91)" stroke="url(#ag91)"/><polygon points="422.7,385.2 421.1,387.7 411.5,381.3 412.8,379.3" fill="url(#ag92)" stroke="url(#ag92)"/><polygon points="421.1,387.7 419.4,390.2 410.0,383.5 411.5,381.3" fill="url(#ag93)" stroke="url(#ag93)"/><polygon points="419.4,390.2 417.5,392.7 408.3,385.7 410.0,383.5" fill="url(#ag94)" stroke="url(#ag94)"/><polygon points="417.5,392.7 415.5,395.3 406.5,388.1 408.3,385.7" fill="url(#ag95)" stroke="url(#ag95)"/><polygon points="415.5,395.3 413.4,397.8 404.6,390.4 406.5,388.1" fill="url(#ag96)" stroke="url(#ag96)"/><polygon points="413.4,397.8 411.2,400.4 402.5,392.8 404.6,390.4" fill="url(#ag97)" stroke="url(#ag97)"/><polygon points="411.2,400.4 408.9,402.9 400.4,395.2 402.5,392.8" fill="url(#ag98)" stroke="url(#ag98)"/><polygon points="408.9,402.9 406.5,405.5 398.1,397.6 400.4,395.2" fill="url(#ag99)" stroke="url(#ag99)"/><polygon points="406.5,405.5 404.1,408.0 395.9,400.0 398.1,397.6" fill="url(#ag100)" stroke="url(#ag100)"/><polygon points="404.1,408.0 401.5,410.6 393.5,402.4 395.9,400.0" fill="url(#ag101)" stroke="url(#ag101)"/><polygon points="401.5,410.6 398.7,413.3 390.9,404.9 393.5,402.4" fill="url(#ag102)" stroke="url(#ag102)"/><polygon points="398.7,413.3 395.7,416.0 388.0,407.5 390.9,404.9" fill="url(#ag103)" stroke="url(#ag103)"/><polygon points="395.7,416.0 392.7,418.8 385.1,410.1 388.0,407.5" fill="url(#ag104)" stroke="url(#ag104)"/><polygon points="392.7,418.8 389.6,421.5 382.0,412.8 385.1,410.1" fill="url(#ag105)" stroke="url(#ag105)"/><polygon points="389.6,421.5 386.5,424.1 379.0,415.4 382.0,412.8" fill="url(#ag106)" stroke="url(#ag106)"/><polygon points="386.5,424.1 383.5,426.7 376.1,417.9 379.0,415.4" fill="url(#ag107)" stroke="url(#ag107)"/><polygon points="383.5,426.7 380.7,429.1 373.2,420.3 376.1,417.9" fill="url(#ag108)" stroke="url(#ag108)"/><polygon points="380.7,429.1 378.1,431.3 370.6,422.6 373.2,420.3" fill="url(#ag109)" stroke="url(#ag109)"/><polygon points="378.1,431.3 375.8,433.3 368.2,424.7 370.6,422.6" fill="url(#ag110)" stroke="url(#ag110)"/><polygon points="375.8,433.3 373.6,435.2 366.0,426.6 368.2,424.7" fill="url(#ag111)" stroke="url(#ag111)"/><polygon points="373.6,435.2 371.6,437.0 364.0,428.4 366.0,426.6" fill="url(#ag112)" stroke="url(#ag112)"/><polygon points="371.6,437.0 369.6,438.8 362.0,430.1 364.0,428.4" fill="url(#ag113)" stroke="url(#ag113)"/><polygon points="369.6,438.8 367.8,440.4 360.2,431.7 362.0,430.1" fill="url(#ag114)" stroke="url(#ag114)"/><polygon points="367.8,440.4 366.0,441.9 358.5,433.2 360.2,431.7" fill="url(#ag115)" stroke="url(#ag115)"/><polygon points="366.0,441.9 364.4,443.3 356.9,434.6 358.5,433.2" fill="url(#ag116)" stroke="url(#ag116)"/><polygon points="364.4,443.3 363.0,444.5 355.5,435.8 356.9,434.6" fill="url(#ag117)" stroke="url(#ag117)"/><polygon points="363.0,444.5 361.8,445.6 354.2,436.9 355.5,435.8" fill="url(#ag118)" stroke="url(#ag118)"/><polygon points="361.8,445.6 360.7,446.6 353.1,437.9 354.2,436.9" fill="url(#ag119)" stroke="url(#ag119)"/><polygon points="360.7,446.6 359.8,447.3 352.2,438.7 353.1,437.9" fill="url(#ag120)" stroke="url(#ag120)"/></g>
<polygon points="367.7,455 320.8,473.9 343.4,431.5 356,443" fill="#FF0000" stroke="#FF0000" stroke-width="0.6" stroke-linejoin="round"/>
<polygon points="362.3,446 367.7,455 370,452 365,444" fill="#F8C8A0"/>
<defs><linearGradient id="ag121" gradientUnits="userSpaceOnUse" x1="550.7" y1="359.4" x2="552.0" y2="367.6"><stop offset="0" stop-color="#CC1038"/><stop offset="0.15" stop-color="#E71F3E"/><stop offset="0.3" stop-color="#F22D45"/><stop offset="0.42" stop-color="#F4374B"/><stop offset="0.55" stop-color="#F43344"/><stop offset="0.7" stop-color="#F42838"/><stop offset="0.85" stop-color="#F41D2D"/><stop offset="1" stop-color="#F41222"/></linearGradient><linearGradient id="ag122" gradientUnits="userSpaceOnUse" x1="553.0" y1="359.5" x2="551.1" y2="367.8"><stop offset="0" stop-color="#CC1038"/><stop offset="0.15" stop-color="#E71F3E"/><stop offset="0.3" stop-color="#F22D45"/><stop offset="0.42" stop-color="#F4374B"/><stop offset="0.55" stop-color="#F43344"/><stop offset="0.7" stop-color="#F42838"/><stop offset="0.85" stop-color="#F41D2D"/><stop offset="1" stop-color="#F41222"/></linearGradient><linearGradient id="ag123" gradientUnits="userSpaceOnUse" x1="553.7" y1="359.6" x2="552.1" y2="368.0"><stop offset="0" stop-color="#CC1038"/><stop offset="0.15" stop-color="#E71F3E"/><stop offset="0.3" stop-color="#F22D45"/><stop offset="0.42" stop-color="#F4374B"/><stop offset="0.55" stop-color="#F43344"/><stop offset="0.7" stop-color="#F42838"/><stop offset="0.85" stop-color="#F41D2D"/><stop offset="1" stop-color="#F41222"/></linearGradient><linearGradient id="ag124" gradientUnits="userSpaceOnUse" x1="554.6" y1="359.8" x2="553.1" y2="368.2"><stop offset="0" stop-color="#CC1038"/><stop offset="0.15" stop-color="#E71F3E"/><stop offset="0.3" stop-color="#F22D45"/><stop offset="0.42" stop-color="#F4374B"/><stop offset="0.55" stop-color="#F43344"/><stop offset="0.7" stop-color="#F42838"/><stop offset="0.85" stop-color="#F41D2D"/><stop offset="1" stop-color="#F41222"/></linearGradient><linearGradient id="ag125" gradientUnits="userSpaceOnUse" x1="555.7" y1="360.0" x2="554.1" y2="368.4"><stop offset="0" stop-color="#CC1038"/><stop offset="0.15" stop-color="#E71F3E"/><stop offset="0.3" stop-color="#F22D45"/><stop offset="0.42" stop-color="#F4374B"/><stop offset="0.55" stop-color="#F43344"/><stop offset="0.7" stop-color="#F42838"/><stop offset="0.85" stop-color="#F41D2D"/><stop offset="1" stop-color="#F41222"/></linearGradient><linearGradient id="ag126" gradientUnits="userSpaceOnUse" x1="556.9" y1="360.2" x2="555.2" y2="368.6"><stop offset="0" stop-color="#CC1038"/><stop offset="0.15" stop-color="#E71F3E"/><stop offset="0.3" stop-color="#F22D45"/><stop offset="0.42" stop-color="#F4374B"/><stop offset="0.55" stop-color="#F43344"/><stop offset="0.7" stop-color="#F42838"/><stop offset="0.85" stop-color="#F41D2D"/><stop offset="1" stop-color="#F41222"/></linearGradient><linearGradient id="ag127" gradientUnits="userSpaceOnUse" x1="558.3" y1="360.5" x2="556.3" y2="368.9"><stop offset="0" stop-color="#CD143B"/><stop offset="0.15" stop-color="#E82745"/><stop offset="0.3" stop-color="#F2394F"/><stop offset="0.42" stop-color="#F44456"/><stop offset="0.55" stop-color="#F53E4F"/><stop offset="0.7" stop-color="#F42F3F"/><stop offset="0.85" stop-color="#F42030"/><stop offset="1" stop-color="#F41323"/></linearGradient><linearGradient id="ag128" gradientUnits="userSpaceOnUse" x1="559.7" y1="360.8" x2="557.4" y2="369.2"><stop offset="0" stop-color="#CE1A40"/><stop offset="0.15" stop-color="#E93450"/><stop offset="0.3" stop-color="#F44B60"/><stop offset="0.42" stop-color="#F55868"/><stop offset="0.55" stop-color="#F6505F"/><stop offset="0.7" stop-color="#F53B4A"/><stop offset="0.85" stop-color="#F42635"/><stop offset="1" stop-color="#F41525"/></linearGradient><linearGradient id="ag129" gradientUnits="userSpaceOnUse" x1="561.2" y1="361.3" x2="558.5" y2="369.5"><stop offset="0" stop-color="#CF2045"/><stop offset="0.15" stop-color="#EB405B"/><stop offset="0.3" stop-color="#F55E70"/><stop offset="0.42" stop-color="#F76B7A"/><stop offset="0.55" stop-color="#F7616F"/><stop offset="0.7" stop-color="#F64654"/><stop offset="0.85" stop-color="#F52B3A"/><stop offset="1" stop-color="#F41726"/></linearGradient><linearGradient id="ag130" gradientUnits="userSpaceOnUse" x1="562.8" y1="361.8" x2="559.6" y2="370.0"><stop offset="0" stop-color="#D1264A"/><stop offset="0.15" stop-color="#EC4D66"/><stop offset="0.3" stop-color="#F67081"/><stop offset="0.42" stop-color="#F87F8B"/><stop offset="0.55" stop-color="#F7737F"/><stop offset="0.7" stop-color="#F6525F"/><stop offset="0.85" stop-color="#F5303F"/><stop offset="1" stop-color="#F41828"/></linearGradient><linearGradient id="ag131" gradientUnits="userSpaceOnUse" x1="564.5" y1="362.5" x2="560.7" y2="370.5"><stop offset="0" stop-color="#D22C4F"/><stop offset="0.15" stop-color="#ED5970"/><stop offset="0.3" stop-color="#F78391"/><stop offset="0.42" stop-color="#F9939D"/><stop offset="0.55" stop-color="#F8858F"/><stop offset="0.7" stop-color="#F75E6A"/><stop offset="0.85" stop-color="#F53644"/><stop offset="1" stop-color="#F41A2A"/></linearGradient><linearGradient id="ag132" gradientUnits="userSpaceOnUse" x1="566.1" y1="363.4" x2="561.8" y2="371.0"><stop offset="0" stop-color="#D33254"/><stop offset="0.15" stop-color="#EF667B"/><stop offset="0.3" stop-color="#F895A1"/><stop offset="0.42" stop-color="#FAA6AF"/><stop offset="0.55" stop-color="#F9969F"/><stop offset="0.7" stop-color="#F76974"/><stop offset="0.85" stop-color="#F53B49"/><stop offset="1" stop-color="#F41C2B"/></linearGradient><linearGradient id="ag133" gradientUnits="userSpaceOnUse" x1="567.8" y1="364.4" x2="562.9" y2="371.7"><stop offset="0" stop-color="#D53859"/><stop offset="0.15" stop-color="#F07386"/><stop offset="0.3" stop-color="#F9A8B2"/><stop offset="0.42" stop-color="#FBBAC1"/><stop offset="0.55" stop-color="#FAA8AF"/><stop offset="0.7" stop-color="#F8757F"/><stop offset="0.85" stop-color="#F6404E"/><stop offset="1" stop-color="#F51E2D"/></linearGradient><linearGradient id="ag134" gradientUnits="userSpaceOnUse" x1="569.4" y1="365.5" x2="564.0" y2="372.5"><stop offset="0" stop-color="#D63E5E"/><stop offset="0.15" stop-color="#F17F91"/><stop offset="0.3" stop-color="#FBBAC2"/><stop offset="0.42" stop-color="#FCCED2"/><stop offset="0.55" stop-color="#FBBAC0"/><stop offset="0.7" stop-color="#F9808A"/><stop offset="0.85" stop-color="#F64653"/><stop offset="1" stop-color="#F51F2E"/></linearGradient><linearGradient id="ag135" gradientUnits="userSpaceOnUse" x1="570.9" y1="366.7" x2="565.2" y2="373.6"><stop offset="0" stop-color="#D74463"/><stop offset="0.15" stop-color="#F38C9C"/><stop offset="0.3" stop-color="#FCCDD3"/><stop offset="0.42" stop-color="#FDE1E4"/><stop offset="0.55" stop-color="#FCCBD0"/><stop offset="0.7" stop-color="#F98C95"/><stop offset="0.85" stop-color="#F64B58"/><stop offset="1" stop-color="#F52130"/></linearGradient><linearGradient id="ag136" gradientUnits="userSpaceOnUse" x1="572.5" y1="368.1" x2="566.6" y2="374.7"><stop offset="0" stop-color="#D84A68"/><stop offset="0.15" stop-color="#F498A6"/><stop offset="0.3" stop-color="#FDE0E3"/><stop offset="0.42" stop-color="#FEF5F6"/><stop offset="0.55" stop-color="#FDDDE0"/><stop offset="0.7" stop-color="#FA979F"/><stop offset="0.85" stop-color="#F7505D"/><stop offset="1" stop-color="#F52332"/></linearGradient><linearGradient id="ag137" gradientUnits="userSpaceOnUse" x1="574.1" y1="369.5" x2="568.0" y2="376.0"><stop offset="0" stop-color="#D94B69"/><stop offset="0.15" stop-color="#F49AA8"/><stop offset="0.3" stop-color="#FDE1E5"/><stop offset="0.42" stop-color="#FFF7F8"/><stop offset="0.55" stop-color="#FDDFE2"/><stop offset="0.7" stop-color="#FA99A0"/><stop offset="0.85" stop-color="#F7515D"/><stop offset="1" stop-color="#F52332"/></linearGradient><linearGradient id="ag138" gradientUnits="userSpaceOnUse" x1="575.7" y1="371.1" x2="569.4" y2="377.4"><stop offset="0" stop-color="#D94B69"/><stop offset="0.15" stop-color="#F49AA8"/><stop offset="0.3" stop-color="#FDE1E5"/><stop offset="0.42" stop-color="#FFF7F8"/><stop offset="0.55" stop-color="#FDDFE2"/><stop offset="0.7" stop-color="#FA99A0"/><stop offset="0.85" stop-color="#F7515D"/><stop offset="1" stop-color="#F52332"/></linearGradient><linearGradient id="ag139" gradientUnits="userSpaceOnUse" x1="577.3" y1="372.7" x2="570.9" y2="379.0"><stop offset="0" stop-color="#D94B69"/><stop offset="0.15" stop-color="#F49AA8"/><stop offset="0.3" stop-color="#FDE1E5"/><stop offset="0.42" stop-color="#FFF7F8"/><stop offset="0.55" stop-color="#FDDFE2"/><stop offset="0.7" stop-color="#FA99A0"/><stop offset="0.85" stop-color="#F7515D"/><stop offset="1" stop-color="#F52332"/></linearGradient><linearGradient id="ag140" gradientUnits="userSpaceOnUse" x1="579.0" y1="374.4" x2="572.4" y2="380.6"><stop offset="0" stop-color="#D94B69"/><stop offset="0.15" stop-color="#F49AA8"/><stop offset="0.3" stop-color="#FDE1E5"/><stop offset="0.42" stop-color="#FFF7F8"/><stop offset="0.55" stop-color="#FDDFE2"/><stop offset="0.7" stop-color="#FA99A0"/><stop offset="0.85" stop-color="#F7515D"/><stop offset="1" stop-color="#F52332"/></linearGradient><linearGradient id="ag141" gradientUnits="userSpaceOnUse" x1="580.6" y1="376.1" x2="574.0" y2="382.2"><stop offset="0" stop-color="#D94B69"/><stop offset="0.15" stop-color="#F49AA8"/><stop offset="0.3" stop-color="#FDE1E5"/><stop offset="0.42" stop-color="#FFF7F8"/><stop offset="0.55" stop-color="#FDDFE2"/><stop offset="0.7" stop-color="#FA99A0"/><stop offset="0.85" stop-color="#F7515D"/><stop offset="1" stop-color="#F52332"/></linearGradient><linearGradient id="ag142" gradientUnits="userSpaceOnUse" x1="582.2" y1="377.9" x2="575.5" y2="383.9"><stop offset="0" stop-color="#D94B69"/><stop offset="0.15" stop-color="#F49AA8"/><stop offset="0.3" stop-color="#FDE1E5"/><stop offset="0.42" stop-color="#FFF7F8"/><stop offset="0.55" stop-color="#FDDFE2"/><stop offset="0.7" stop-color="#FA99A0"/><stop offset="0.85" stop-color="#F7515D"/><stop offset="1" stop-color="#F52332"/></linearGradient><linearGradient id="ag143" gradientUnits="userSpaceOnUse" x1="583.9" y1="379.7" x2="577.1" y2="385.7"><stop offset="0" stop-color="#D94B69"/><stop offset="0.15" stop-color="#F49AA8"/><stop offset="0.3" stop-color="#FDE1E5"/><stop offset="0.42" stop-color="#FFF7F8"/><stop offset="0.55" stop-color="#FDDFE2"/><stop offset="0.7" stop-color="#FA99A0"/><stop offset="0.85" stop-color="#F7515D"/><stop offset="1" stop-color="#F52332"/></linearGradient><linearGradient id="ag144" gradientUnits="userSpaceOnUse" x1="585.5" y1="381.5" x2="578.7" y2="387.5"><stop offset="0" stop-color="#D94B69"/><stop offset="0.15" stop-color="#F49AA8"/><stop offset="0.3" stop-color="#FDE1E5"/><stop offset="0.42" stop-color="#FFF7F8"/><stop offset="0.55" stop-color="#FDDFE2"/><stop offset="0.7" stop-color="#FA99A0"/><stop offset="0.85" stop-color="#F7515D"/><stop offset="1" stop-color="#F52332"/></linearGradient><linearGradient id="ag145" gradientUnits="userSpaceOnUse" x1="587.1" y1="383.3" x2="580.2" y2="389.3"><stop offset="0" stop-color="#D84968"/><stop offset="0.15" stop-color="#F496A5"/><stop offset="0.3" stop-color="#FDDCE0"/><stop offset="0.42" stop-color="#FEF2F3"/><stop offset="0.55" stop-color="#FDDADD"/><stop offset="0.7" stop-color="#FA959D"/><stop offset="0.85" stop-color="#F6505C"/><stop offset="1" stop-color="#F52331"/></linearGradient><linearGradient id="ag146" gradientUnits="userSpaceOnUse" x1="588.7" y1="385.1" x2="581.8" y2="391.1"><stop offset="0" stop-color="#D74463"/><stop offset="0.15" stop-color="#F38C9C"/><stop offset="0.3" stop-color="#FCCDD3"/><stop offset="0.42" stop-color="#FDE1E4"/><stop offset="0.55" stop-color="#FCCBD0"/><stop offset="0.7" stop-color="#F98C95"/><stop offset="0.85" stop-color="#F64B58"/><stop offset="1" stop-color="#F52130"/></linearGradient><linearGradient id="ag147" gradientUnits="userSpaceOnUse" x1="590.3" y1="387.0" x2="583.3" y2="392.9"><stop offset="0" stop-color="#D63F5F"/><stop offset="0.15" stop-color="#F28193"/><stop offset="0.3" stop-color="#FBBEC5"/><stop offset="0.42" stop-color="#FCD1D5"/><stop offset="0.55" stop-color="#FBBDC2"/><stop offset="0.7" stop-color="#F9828C"/><stop offset="0.85" stop-color="#F64754"/><stop offset="1" stop-color="#F5202F"/></linearGradient><linearGradient id="ag148" gradientUnits="userSpaceOnUse" x1="592.0" y1="389.0" x2="584.9" y2="394.8"><stop offset="0" stop-color="#D53A5B"/><stop offset="0.15" stop-color="#F0778A"/><stop offset="0.3" stop-color="#FAAEB7"/><stop offset="0.42" stop-color="#FBC1C7"/><stop offset="0.55" stop-color="#FBAEB5"/><stop offset="0.7" stop-color="#F87983"/><stop offset="0.85" stop-color="#F64250"/><stop offset="1" stop-color="#F51E2D"/></linearGradient><linearGradient id="ag149" gradientUnits="userSpaceOnUse" x1="593.8" y1="391.2" x2="586.5" y2="396.9"><stop offset="0" stop-color="#D43557"/><stop offset="0.15" stop-color="#EF6C81"/><stop offset="0.3" stop-color="#F99FAA"/><stop offset="0.42" stop-color="#FAB0B8"/><stop offset="0.55" stop-color="#FA9FA7"/><stop offset="0.7" stop-color="#F86F7A"/><stop offset="0.85" stop-color="#F63E4B"/><stop offset="1" stop-color="#F41D2C"/></linearGradient><linearGradient id="ag150" gradientUnits="userSpaceOnUse" x1="595.6" y1="393.5" x2="588.3" y2="399.1"><stop offset="0" stop-color="#D33053"/><stop offset="0.15" stop-color="#EE6278"/><stop offset="0.3" stop-color="#F88F9C"/><stop offset="0.42" stop-color="#FAA0A9"/><stop offset="0.55" stop-color="#F9919A"/><stop offset="0.7" stop-color="#F76571"/><stop offset="0.85" stop-color="#F53947"/><stop offset="1" stop-color="#F41B2B"/></linearGradient><linearGradient id="ag151" gradientUnits="userSpaceOnUse" x1="597.4" y1="395.8" x2="590.0" y2="401.4"><stop offset="0" stop-color="#D22B4F"/><stop offset="0.15" stop-color="#ED576F"/><stop offset="0.3" stop-color="#F7808E"/><stop offset="0.42" stop-color="#F98F9A"/><stop offset="0.55" stop-color="#F8828C"/><stop offset="0.7" stop-color="#F75C68"/><stop offset="0.85" stop-color="#F53543"/><stop offset="1" stop-color="#F41A29"/></linearGradient><linearGradient id="ag152" gradientUnits="userSpaceOnUse" x1="599.2" y1="398.1" x2="591.8" y2="403.8"><stop offset="0" stop-color="#D1264A"/><stop offset="0.15" stop-color="#EC4D66"/><stop offset="0.3" stop-color="#F67081"/><stop offset="0.42" stop-color="#F87F8B"/><stop offset="0.55" stop-color="#F7737F"/><stop offset="0.7" stop-color="#F6525F"/><stop offset="0.85" stop-color="#F5303F"/><stop offset="1" stop-color="#F41828"/></linearGradient><linearGradient id="ag153" gradientUnits="userSpaceOnUse" x1="601.0" y1="400.5" x2="593.5" y2="406.1"><stop offset="0" stop-color="#D02146"/><stop offset="0.15" stop-color="#EB425C"/><stop offset="0.3" stop-color="#F56173"/><stop offset="0.42" stop-color="#F76F7D"/><stop offset="0.55" stop-color="#F76472"/><stop offset="0.7" stop-color="#F64856"/><stop offset="0.85" stop-color="#F52C3B"/><stop offset="1" stop-color="#F41727"/></linearGradient><linearGradient id="ag154" gradientUnits="userSpaceOnUse" x1="602.7" y1="402.7" x2="595.2" y2="408.3"><stop offset="0" stop-color="#CF1C42"/><stop offset="0.15" stop-color="#EA3853"/><stop offset="0.3" stop-color="#F45265"/><stop offset="0.42" stop-color="#F65E6E"/><stop offset="0.55" stop-color="#F65664"/><stop offset="0.7" stop-color="#F53F4D"/><stop offset="0.85" stop-color="#F52737"/><stop offset="1" stop-color="#F41525"/></linearGradient><linearGradient id="ag155" gradientUnits="userSpaceOnUse" x1="604.3" y1="404.9" x2="596.8" y2="410.5"><stop offset="0" stop-color="#CD173E"/><stop offset="0.15" stop-color="#E92D4A"/><stop offset="0.3" stop-color="#F34258"/><stop offset="0.42" stop-color="#F54E5F"/><stop offset="0.55" stop-color="#F54757"/><stop offset="0.7" stop-color="#F53544"/><stop offset="0.85" stop-color="#F42333"/><stop offset="1" stop-color="#F41424"/></linearGradient><linearGradient id="ag156" gradientUnits="userSpaceOnUse" x1="605.8" y1="406.9" x2="598.3" y2="412.5"><stop offset="0" stop-color="#CC123A"/><stop offset="0.15" stop-color="#E72341"/><stop offset="0.3" stop-color="#F2334A"/><stop offset="0.42" stop-color="#F43E50"/><stop offset="0.55" stop-color="#F43849"/><stop offset="0.7" stop-color="#F42B3B"/><stop offset="0.85" stop-color="#F41E2E"/><stop offset="1" stop-color="#F41323"/></linearGradient><linearGradient id="ag157" gradientUnits="userSpaceOnUse" x1="607.2" y1="408.7" x2="599.6" y2="414.3"><stop offset="0" stop-color="#CC1038"/><stop offset="0.15" stop-color="#E71F3E"/><stop offset="0.3" stop-color="#F22D45"/><stop offset="0.42" stop-color="#F4374B"/><stop offset="0.55" stop-color="#F43344"/><stop offset="0.7" stop-color="#F42838"/><stop offset="0.85" stop-color="#F41D2D"/><stop offset="1" stop-color="#F41222"/></linearGradient><linearGradient id="ag158" gradientUnits="userSpaceOnUse" x1="608.4" y1="410.3" x2="600.8" y2="415.9"><stop offset="0" stop-color="#CC1038"/><stop offset="0.15" stop-color="#E71F3E"/><stop offset="0.3" stop-color="#F22D45"/><stop offset="0.42" stop-color="#F4374B"/><stop offset="0.55" stop-color="#F43344"/><stop offset="0.7" stop-color="#F42838"/><stop offset="0.85" stop-color="#F41D2D"/><stop offset="1" stop-color="#F41222"/></linearGradient><linearGradient id="ag159" gradientUnits="userSpaceOnUse" x1="609.3" y1="411.6" x2="601.8" y2="417.3"><stop offset="0" stop-color="#CC1038"/><stop offset="0.15" stop-color="#E71F3E"/><stop offset="0.3" stop-color="#F22D45"/><stop offset="0.42" stop-color="#F4374B"/><stop offset="0.55" stop-color="#F43344"/><stop offset="0.7" stop-color="#F42838"/><stop offset="0.85" stop-color="#F41D2D"/><stop offset="1" stop-color="#F41222"/></linearGradient></defs>
<g stroke-width="0.7" stroke-linejoin="round"><polygon points="548.7,359.3 552.7,359.4 550.6,367.7 553.4,367.4" fill="url(#ag121)" stroke="url(#ag121)"/><polygon points="552.7,359.4 553.3,359.6 551.6,367.9 550.6,367.7" fill="url(#ag122)" stroke="url(#ag122)"/><polygon points="553.3,359.6 554.1,359.7 552.6,368.1 551.6,367.9" fill="url(#ag123)" stroke="url(#ag123)"/><polygon points="554.1,359.7 555.1,359.9 553.6,368.3 552.6,368.1" fill="url(#ag124)" stroke="url(#ag124)"/><polygon points="555.1,359.9 556.3,360.1 554.6,368.5 553.6,368.3" fill="url(#ag125)" stroke="url(#ag125)"/><polygon points="556.3,360.1 557.6,360.3 555.7,368.8 554.6,368.5" fill="url(#ag126)" stroke="url(#ag126)"/><polygon points="557.6,360.3 559.0,360.6 556.8,369.0 555.7,368.8" fill="url(#ag127)" stroke="url(#ag127)"/><polygon points="559.0,360.6 560.5,361.0 557.9,369.3 556.8,369.0" fill="url(#ag128)" stroke="url(#ag128)"/><polygon points="560.5,361.0 562.0,361.5 559.0,369.7 557.9,369.3" fill="url(#ag129)" stroke="url(#ag129)"/><polygon points="562.0,361.5 563.6,362.1 560.1,370.2 559.0,369.7" fill="url(#ag130)" stroke="url(#ag130)"/><polygon points="563.6,362.1 565.3,362.9 561.3,370.7 560.1,370.2" fill="url(#ag131)" stroke="url(#ag131)"/><polygon points="565.3,362.9 567.0,363.8 562.3,371.3 561.3,370.7" fill="url(#ag132)" stroke="url(#ag132)"/><polygon points="567.0,363.8 568.6,364.9 563.4,372.1 562.3,371.3" fill="url(#ag133)" stroke="url(#ag133)"/><polygon points="568.6,364.9 570.1,366.1 564.6,373.0 563.4,372.1" fill="url(#ag134)" stroke="url(#ag134)"/><polygon points="570.1,366.1 571.7,367.4 565.9,374.1 564.6,373.0" fill="url(#ag135)" stroke="url(#ag135)"/><polygon points="571.7,367.4 573.3,368.8 567.3,375.3 565.9,374.1" fill="url(#ag136)" stroke="url(#ag136)"/><polygon points="573.3,368.8 574.9,370.3 568.7,376.7 567.3,375.3" fill="url(#ag137)" stroke="url(#ag137)"/><polygon points="574.9,370.3 576.5,371.9 570.2,378.2 568.7,376.7" fill="url(#ag138)" stroke="url(#ag138)"/><polygon points="576.5,371.9 578.1,373.5 571.7,379.7 570.2,378.2" fill="url(#ag139)" stroke="url(#ag139)"/><polygon points="578.1,373.5 579.8,375.2 573.2,381.4 571.7,379.7" fill="url(#ag140)" stroke="url(#ag140)"/><polygon points="579.8,375.2 581.4,377.0 574.7,383.1 573.2,381.4" fill="url(#ag141)" stroke="url(#ag141)"/><polygon points="581.4,377.0 583.1,378.8 576.3,384.8 574.7,383.1" fill="url(#ag142)" stroke="url(#ag142)"/><polygon points="583.1,378.8 584.7,380.6 577.9,386.6 576.3,384.8" fill="url(#ag143)" stroke="url(#ag143)"/><polygon points="584.7,380.6 586.3,382.4 579.4,388.4 577.9,386.6" fill="url(#ag144)" stroke="url(#ag144)"/><polygon points="586.3,382.4 587.9,384.2 581.0,390.2 579.4,388.4" fill="url(#ag145)" stroke="url(#ag145)"/><polygon points="587.9,384.2 589.5,386.0 582.5,392.0 581.0,390.2" fill="url(#ag146)" stroke="url(#ag146)"/><polygon points="589.5,386.0 591.1,388.0 584.1,393.8 582.5,392.0" fill="url(#ag147)" stroke="url(#ag147)"/><polygon points="591.1,388.0 592.9,390.1 585.7,395.8 584.1,393.8" fill="url(#ag148)" stroke="url(#ag148)"/><polygon points="592.9,390.1 594.7,392.3 587.4,398.0 585.7,395.8" fill="url(#ag149)" stroke="url(#ag149)"/><polygon points="594.7,392.3 596.5,394.6 589.1,400.3 587.4,398.0" fill="url(#ag150)" stroke="url(#ag150)"/><polygon points="596.5,394.6 598.3,397.0 590.9,402.6 589.1,400.3" fill="url(#ag151)" stroke="url(#ag151)"/><polygon points="598.3,397.0 600.1,399.3 592.7,404.9 590.9,402.6" fill="url(#ag152)" stroke="url(#ag152)"/><polygon points="600.1,399.3 601.8,401.6 594.4,407.2 592.7,404.9" fill="url(#ag153)" stroke="url(#ag153)"/><polygon points="601.8,401.6 603.5,403.8 596.0,409.4 594.4,407.2" fill="url(#ag154)" stroke="url(#ag154)"/><polygon points="603.5,403.8 605.1,405.9 597.5,411.5 596.0,409.4" fill="url(#ag155)" stroke="url(#ag155)"/><polygon points="605.1,405.9 606.5,407.9 599.0,413.5 597.5,411.5" fill="url(#ag156)" stroke="url(#ag156)"/><polygon points="606.5,407.9 607.8,409.6 600.2,415.2 599.0,413.5" fill="url(#ag157)" stroke="url(#ag157)"/><polygon points="607.8,409.6 608.9,411.0 601.3,416.7 600.2,415.2" fill="url(#ag158)" stroke="url(#ag158)"/><polygon points="608.9,411.0 609.8,412.1 602.2,417.9 601.3,416.7" fill="url(#ag159)" stroke="url(#ag159)"/></g>
<polygon points="618.8,410.7 628.8,442.1 598.7,424.1 606,416" fill="#FF0000" stroke="#FF0000" stroke-width="0.6" stroke-linejoin="round"/>
<polygon points="606.8,410 614.8,407.4 618.8,410.7 610,413" fill="#F8C8A0"/>
<use href="#ab" transform="translate(474.2,249.1) rotate(-46.5) scale(0.95)"/>
<use href="#ab" transform="translate(439,319.6) rotate(-46.5) scale(0.95)"/>
<use href="#ab" transform="translate(509.5,304.7) rotate(-46.5) scale(0.95)"/>
<text x="557.8" y="272" font-size="25" text-anchor="start" stroke="#000" stroke-width="0.55" textLength="102.0" lengthAdjust="spacingAndGlyphs">Antibody</text>
<text x="572.0999999999999" y="301" font-size="25" text-anchor="start" stroke="#000" stroke-width="0.55" textLength="75.9" lengthAdjust="spacingAndGlyphs">release</text>
<text x="359.8" y="397.5" font-size="25" text-anchor="start" stroke="#000" stroke-width="0.55" textLength="36.5" lengthAdjust="spacingAndGlyphs">(II)</text>
<text x="588.8" y="379.6" font-size="25" text-anchor="start" stroke="#000" stroke-width="0.55" textLength="26.2" lengthAdjust="spacingAndGlyphs">(I)</text>
<text x="445.8" y="106.7" font-size="25" text-anchor="start" stroke="#000" stroke-width="0.55" textLength="46.3" lengthAdjust="spacingAndGlyphs">(III)</text>
<path d="M126.7,428.3 C127.7,426.3 129.0,425.6 131.3,425.4 C133.6,425.2 135.9,424.4 140.5,427.2 C145.1,430.0 151.9,436.6 158.8,442.1 C165.7,447.7 174.8,454.4 181.7,460.5 C188.6,466.6 194.4,472.7 200.1,478.8 C205.8,484.9 211.9,491.5 216.1,497.2 C220.3,502.9 222.6,507.5 225.3,513.2 C228.0,518.9 229.9,526.2 232.2,531.6 C234.5,537.0 236.0,542.2 239.1,545.3 C242.2,548.3 245.6,548.6 250.6,549.9 C255.6,551.2 263.5,551.7 268.9,553.3 C274.3,554.9 278.8,557.4 283.2,559.5 C287.6,561.6 294.7,563.2 295.6,565.8 C296.5,568.4 293.4,571.5 288.6,575.3 C283.8,579.1 274.1,584.7 266.9,588.8 C259.7,592.9 250.2,596.5 245.2,599.7 C240.2,602.9 238.0,604.2 237.1,607.8 C236.2,611.4 238.5,615.4 239.8,621.3 C241.2,627.2 243.8,636.7 245.2,643.0 C246.6,649.3 248.9,656.1 248.5,659.3 C248.1,662.5 246.7,662.0 242.5,662.0 C238.3,662.0 231.2,660.0 223.5,659.3 C215.8,658.6 205.0,657.5 196.4,658.0 C187.8,658.5 179.2,660.0 172.0,662.0 C164.8,664.0 158.4,667.9 153.0,670.2 C147.6,672.5 142.7,675.6 139.5,675.8 C136.3,676.0 135.2,675.1 134.1,671.5 C133.0,667.9 133.2,660.0 132.7,653.9 C132.2,647.8 132.0,639.9 131.3,634.9 C130.6,629.9 131.8,625.5 128.6,624.1 C125.4,622.8 118.7,625.9 112.4,626.8 C106.1,627.7 97.0,630.4 90.7,629.5 C84.4,628.6 78.9,624.5 74.4,621.3 C69.9,618.1 66.1,614.3 63.6,610.5 C61.1,606.7 58.8,601.9 59.3,598.3 C59.8,594.7 62.9,593.1 66.3,588.8 C69.7,584.5 74.8,577.9 79.8,572.5 C84.8,567.1 90.6,561.2 96.1,556.3 C101.6,551.4 108.2,547.1 112.9,543.0 C117.6,538.9 121.3,535.8 124.4,531.6 C127.5,527.4 130.0,522.8 131.3,517.8 C132.6,512.8 132.6,508.2 132.4,501.7 C132.2,495.2 130.9,486.4 130.1,478.8 C129.3,471.2 128.6,462.8 127.8,455.9 C127.0,449.0 125.8,442.1 125.6,437.5 C125.4,432.9 125.8,430.3 126.7,428.3 Z" fill="url(#dcfill)" stroke="#40A4BE" stroke-width="2" filter="url(#shd)"/>
<ellipse cx="171.4" cy="580" rx="41.3" ry="29.2" fill="url(#dcnuc)" stroke="#4A6DB5" stroke-width="2" filter="url(#shd)"/>
<path d="M0,-11.0 C5.25,-11.0 7.5,-2.2 7.5,2.2 C7.5,7.699999999999999 4.2,11.0 0,11.0 C-4.2,11.0 -7.5,7.699999999999999 -7.5,2.2 C-7.5,-2.2 -5.25,-11.0 0,-11.0 Z" transform="translate(166.8,435.9) rotate(-20)" fill="url(#rec)" stroke="#2E5890" stroke-width="1"/>
<path d="M0,-11.0 C5.25,-11.0 7.5,-2.2 7.5,2.2 C7.5,7.699999999999999 4.2,11.0 0,11.0 C-4.2,11.0 -7.5,7.699999999999999 -7.5,2.2 C-7.5,-2.2 -5.25,-11.0 0,-11.0 Z" transform="translate(213.6,484.5) rotate(-15)" fill="url(#rec)" stroke="#2E5890" stroke-width="1"/>
<path d="M0,-11.0 C5.25,-11.0 7.5,-2.2 7.5,2.2 C7.5,7.699999999999999 4.2,11.0 0,11.0 C-4.2,11.0 -7.5,7.699999999999999 -7.5,2.2 C-7.5,-2.2 -5.25,-11.0 0,-11.0 Z" transform="translate(249.2,541.6) rotate(-10)" fill="url(#rec)" stroke="#2E5890" stroke-width="1"/>
<path d="M0,-12.0 C4.6899999999999995,-12.0 6.7,-2.4000000000000004 6.7,2.4000000000000004 C6.7,8.399999999999999 3.7520000000000007,12.0 0,12.0 C-3.7520000000000007,12.0 -6.7,8.399999999999999 -6.7,2.4000000000000004 C-6.7,-2.4000000000000004 -4.6899999999999995,-12.0 0,-12.0 Z" transform="translate(97.6,545.5) rotate(80)" fill="url(#rec)" stroke="#2E5890" stroke-width="1"/>
<path d="M3.48,-7.35 C7.829999999999999,-7.35 8.7,-5.145 8.7,-1.47 L8.7,1.47 C8.7,5.145 7.829999999999999,7.35 3.48,7.35 C-4.35,7.35 -8.7,4.409999999999999 -8.7,0 C-8.7,-4.409999999999999 -4.35,-7.35 3.48,-7.35 Z" transform="translate(68.2,578.9) rotate(0)" fill="url(#rec)" stroke="#2E5890" stroke-width="1"/>
<path d="M4.0,-8.0 C9.0,-8.0 10.0,-5.6 10.0,-1.6 L10.0,1.6 C10.0,5.6 9.0,8.0 4.0,8.0 C-5.0,8.0 -10.0,4.8 -10.0,0 C-10.0,-4.8 -5.0,-8.0 4.0,-8.0 Z" transform="translate(82.4,639) rotate(0)" fill="url(#rec)" stroke="#2E5890" stroke-width="1"/>
<use href="#ab2" transform="translate(220.2,398.6) rotate(148) scale(1)"/>
<use href="#ab2" transform="translate(265.5,446.2) rotate(148) scale(1)"/>
<use href="#ab2" transform="translate(301.9,505.3) rotate(148) scale(1)"/>
<use href="#ab2" transform="translate(51.5,498.6) rotate(48) scale(1)"/>
<use href="#ab2" transform="translate(2.5,575.9) rotate(0) scale(1)"/>
<use href="#ab2" transform="translate(14.5,634.4) rotate(0) scale(1)"/>
<text x="71.8" y="718.5" font-size="25" text-anchor="start" stroke="#000" stroke-width="0.55" textLength="157.9" lengthAdjust="spacingAndGlyphs">Induce DC cell</text>
<rect x="671.6" y="639" width="206.0" height="34.60000000000002" rx="5" fill="#77933C" stroke="#F46A08" stroke-width="4"/>
<path d="M720.6,469.7 C722.4,468.3 726.2,467.9 729.0,467.6 C731.8,467.3 735.3,466.4 737.5,467.8 C739.7,469.2 740.6,473.3 742.2,476.3 C743.8,479.3 744.5,483.3 746.9,485.6 C749.2,487.9 751.6,488.9 756.3,490.3 C761.0,491.7 768.8,493.3 775.0,494.1 C781.2,494.9 787.5,495.0 793.8,495.0 C800.1,495.0 807.0,494.7 812.6,494.1 C818.2,493.5 822.2,491.5 827.6,491.3 C833.0,491.1 839.7,490.8 845.0,493.0 C850.3,495.2 856.5,499.1 859.5,504.4 C862.5,509.7 862.4,519.1 863.2,525.0 C864.0,530.9 864.0,533.9 864.2,540.0 C864.4,546.1 863.4,555.2 864.2,561.6 C865.0,568.0 867.2,572.8 869.0,578.4 C870.8,584.0 873.4,590.8 875.0,595.2 C876.6,599.6 878.6,602.3 878.8,604.7 C879.0,607.1 879.4,608.1 876.2,609.5 C873.0,610.9 865.1,611.9 859.5,613.1 C853.9,614.3 849.5,614.9 842.7,616.7 C835.9,618.5 826.7,621.3 818.7,623.9 C810.7,626.5 801.1,630.5 794.7,632.3 C788.3,634.1 784.3,636.1 780.3,634.9 C776.3,633.7 775.1,627.5 770.7,625.1 C766.3,622.7 760.3,621.3 753.9,620.3 C747.5,619.3 739.2,620.1 732.4,619.1 C725.6,618.1 719.2,617.1 713.2,614.3 C707.2,611.5 701.2,606.8 696.4,602.4 C691.6,598.0 687.4,593.6 684.4,588.0 C681.4,582.4 679.6,576.8 678.4,568.8 C677.2,560.8 677.2,547.0 677.2,540.0 C677.2,533.0 677.4,531.2 678.5,526.5 C679.6,521.8 681.4,516.4 684.0,512.0 C686.6,507.6 690.7,503.4 694.0,500.0 C697.3,496.6 700.9,493.7 703.8,491.3 C706.7,488.9 708.9,488.2 711.3,485.6 C713.7,483.1 716.5,478.6 718.0,476.0 C719.5,473.4 718.8,471.1 720.6,469.7 Z" fill="#F9C182"/>
<ellipse cx="775.2" cy="552.4" rx="59.4" ry="39.2" fill="#F6994C"/>
<polygon points="806.8,546.5 826.8,497.6 835.6,504.9 845.2,474.4 854,480.8 865.3,451.2 892.5,471.2 868.5,492.8 861.3,488.8 845.2,513.7 838.8,509.7" fill="#fff" stroke="#1F4E8C" stroke-width="6.2" stroke-linejoin="round"/>
<path d="M2.5600000000000005,-14.5 C5.760000000000001,-14.5 6.4,-10.149999999999999 6.4,-2.9000000000000004 L6.4,2.9000000000000004 C6.4,10.149999999999999 5.760000000000001,14.5 2.5600000000000005,14.5 C-3.2,14.5 -6.4,8.7 -6.4,0 C-6.4,-8.7 -3.2,-14.5 2.5600000000000005,-14.5 Z" transform="translate(751.3,460.8) rotate(-90)" fill="url(#rec)" stroke="#2E5890" stroke-width="1"/>
<path d="M0,-11.2 C4.4799999999999995,-11.2 6.4,-2.2399999999999998 6.4,2.2399999999999998 C6.4,7.839999999999999 3.5840000000000005,11.2 0,11.2 C-3.5840000000000005,11.2 -6.4,7.839999999999999 -6.4,2.2399999999999998 C-6.4,-2.2399999999999998 -4.4799999999999995,-11.2 0,-11.2 Z" transform="translate(695.3,491.3) rotate(-90)" fill="url(#rec)" stroke="#2E5890" stroke-width="1"/>
<path d="M3.12,-7.75 C7.02,-7.75 7.8,-5.425 7.8,-1.55 L7.8,1.55 C7.8,5.425 7.02,7.75 3.12,7.75 C-3.9,7.75 -7.8,4.6499999999999995 -7.8,0 C-7.8,-4.6499999999999995 -3.9,-7.75 3.12,-7.75 Z" transform="translate(671.8,534.8) rotate(0)" fill="url(#rec)" stroke="#2E5890" stroke-width="1"/>
<path d="M4.0,-7.25 C9.0,-7.25 10.0,-5.074999999999999 10.0,-1.4500000000000002 L10.0,1.4500000000000002 C10.0,5.074999999999999 9.0,7.25 4.0,7.25 C-5.0,7.25 -10.0,4.35 -10.0,0 C-10.0,-4.35 -5.0,-7.25 4.0,-7.25 Z" transform="translate(685.6,595.4) rotate(0)" fill="url(#rec)" stroke="#2E5890" stroke-width="1"/>
<path d="M4.0,-7.5 C9.0,-7.5 10.0,-5.25 10.0,-1.5 L10.0,1.5 C10.0,5.25 9.0,7.5 4.0,7.5 C-5.0,7.5 -10.0,4.5 -10.0,0 C-10.0,-4.5 -5.0,-7.5 4.0,-7.5 Z" transform="translate(873.6,524.5) rotate(0)" fill="url(#rec)" stroke="#2E5890" stroke-width="1"/>
<path d="M4.16,-7.65 C9.360000000000001,-7.65 10.4,-5.3549999999999995 10.4,-1.5300000000000002 L10.4,1.5300000000000002 C10.4,5.3549999999999995 9.360000000000001,7.65 4.16,7.65 C-5.2,7.65 -10.4,4.59 -10.4,0 C-10.4,-4.59 -5.2,-7.65 4.16,-7.65 Z" transform="translate(885.3,602.3) rotate(0)" fill="url(#rec)" stroke="#2E5890" stroke-width="1"/>
<use href="#ab2" transform="translate(747.6,388.5) rotate(88) scale(1.1)"/>
<use href="#ab2" transform="translate(649.5,445.2) rotate(43) scale(1)"/>
<use href="#ab2" transform="translate(606.5,531.2) rotate(0) scale(1)"/>
<use href="#ab2" transform="translate(617.6,589.8) rotate(0) scale(1)"/>
<use href="#ab2" transform="translate(940,519.7) rotate(172) scale(1)"/>
<use href="#ab2" transform="translate(953.3,596.8) rotate(172) scale(1)"/>
<text x="716.8" y="704" font-size="25" text-anchor="start" stroke="#000" stroke-width="0.55" textLength="120.5" lengthAdjust="spacingAndGlyphs">Cancer cell</text>
<text x="725.4" y="732" font-size="25" text-anchor="start" stroke="#000" stroke-width="0.55" textLength="104.5" lengthAdjust="spacingAndGlyphs">apoptosis</text>
<circle cx="412.5" cy="578.3" r="7.5" fill="#1BA3E0"/>
<circle cx="435" cy="575.3" r="7.5" fill="#1BA3E0"/>
<circle cx="423.7" cy="590.5" r="7.5" fill="#1BA3E0"/>
<circle cx="397.5" cy="599.2" r="7.5" fill="#1BA3E0"/>
<circle cx="432.5" cy="602.5" r="7.5" fill="#1BA3E0"/>
<circle cx="412.5" cy="610.8" r="7.5" fill="#1BA3E0"/>
<circle cx="400" cy="619.2" r="7.5" fill="#1BA3E0"/>
<circle cx="432.5" cy="622.5" r="7.5" fill="#1BA3E0"/>
<text x="454.6" y="599" font-size="25" text-anchor="start" stroke="#000" stroke-width="0.55" textLength="60.5" lengthAdjust="spacingAndGlyphs">IL-12</text>
<text x="454.6" y="629" font-size="25" text-anchor="start" stroke="#000" stroke-width="0.55" textLength="42.0" lengthAdjust="spacingAndGlyphs">IFN</text>
<text x="497" y="629" font-size="23" font-weight="normal" stroke="#000" stroke-width="0.3">&#947;</text>
<path d="M519,634.7 L519,584.7 L514.7,584.7 L523.5,575.8 L533,584.7 L528,584.7 L528,634.7 Z" fill="#C0504D"/>
<polygon points="296.9,627.0 330.0,638.5 367.3,649.6 367.3,651.8 330.0,640.9 296.9,629.4" fill="#E8203E"/>
<line x1="300" y1="628.4" x2="365" y2="650.4" stroke="#F8C8B0" stroke-width="0.7"/>
<path d="M367.3,647.7 C369.3,646.7 373.9,643.2 379.2,641.7 C384.5,640.2 392.4,639.4 399.0,638.8 C405.6,638.2 412.2,638.1 418.8,638.2 C425.4,638.3 432.0,638.6 438.6,639.6 C445.2,640.6 451.5,642.7 458.4,644.4 C465.3,646.1 473.9,648.2 480.0,649.6 C486.1,651.0 486.2,650.2 495.0,652.5 C503.8,654.8 522.2,661.0 532.6,663.2 C543.0,665.5 549.3,666.1 557.6,666.0 C565.9,665.9 575.7,664.3 582.6,662.6 C589.5,660.9 595.1,657.8 599.3,655.8 C603.5,653.8 606.5,651.4 608.0,650.5 L618,660 618.0,660.0 C614.9,661.2 605.2,665.5 599.3,667.2 C593.4,668.9 589.5,669.7 582.6,670.2 C575.7,670.7 565.9,670.8 557.6,670.3 C549.3,669.8 543.0,669.7 532.6,667.2 C522.2,664.7 503.8,657.8 495.0,655.2 C486.2,652.7 486.1,653.4 480.0,651.9 C473.9,650.4 465.3,647.8 458.4,646.0 C451.5,644.2 445.2,641.9 438.6,641.2 C432.0,640.5 425.4,641.0 418.8,642.0 C412.2,643.0 404.9,645.4 399.0,646.9 C393.1,648.4 388.4,650.0 383.1,650.9 C377.8,651.8 369.9,651.8 367.3,652.0 Z" fill="#EE1A34"/>
<path d="M371,651 C385,648 400,644 420,641.5 C405,646 390,650 371,651 Z" fill="#F7A8B8"/>
<path d="M440,641 C455,643 470,648 485,651.5" fill="none" stroke="#F8D0B8" stroke-width="0.8"/>
<path d="M540,666.5 C560,668 580,667 598,662 C585,665.5 560,667 540,666.5 Z" fill="#F8B0C0"/>
<polygon points="580.5,647.1 622.2,644.6 651.4,658.6 617,660.5 606,651" fill="#FF0000" stroke="#FF0000" stroke-width="0.5" stroke-linejoin="round"/>
<text x="357.8" y="688.5" font-size="25" text-anchor="start" stroke="#000" stroke-width="0.55" textLength="167.1" lengthAdjust="spacingAndGlyphs">Immune cancer</text>
<text x="399.2" y="717.3" font-size="25" text-anchor="start" stroke="#000" stroke-width="0.55" textLength="83.8" lengthAdjust="spacingAndGlyphs">therapy</text></svg>
</body></html>
